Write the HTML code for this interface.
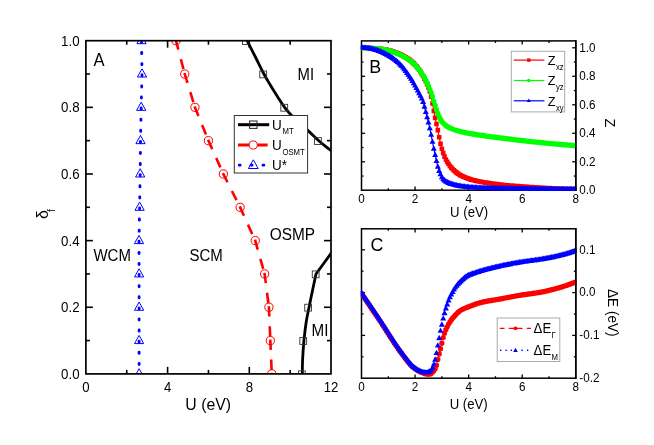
<!DOCTYPE html>
<html><head><meta charset="utf-8"><title>Phase diagram</title>
<style>
html,body{margin:0;padding:0;background:#fff;}
body{width:654px;height:445px;overflow:hidden;font-family:"Liberation Sans",sans-serif;}
svg{display:block;will-change:transform;}
</style></head><body>
<svg width="654" height="445" viewBox="0 0 654 445" font-family='"Liberation Sans", sans-serif'>
<rect width="654" height="445" fill="#fff"/>
<defs><clipPath id="cA"><rect x="85.9" y="40.7" width="245.1" height="333.2"/></clipPath>
<clipPath id="cB"><rect x="360.75" y="40.15" width="215.8" height="150.8"/></clipPath>
<clipPath id="cC"><rect x="360.75" y="228.05" width="215.8" height="150.9"/></clipPath></defs>
<g clip-path="url(#cA)">
<rect x="140.12" y="40" width="2.8" height="4" rx="1.4" fill="#0000ff"/>
<rect x="140.29" y="51.1" width="2.8" height="4" rx="1.4" fill="#0000ff"/>
<rect x="140.46" y="62.2" width="2.8" height="4" rx="1.4" fill="#0000ff"/>
<rect x="140.58" y="73.3" width="2.8" height="4" rx="1.4" fill="#0000ff"/>
<rect x="140.3" y="84.4" width="2.8" height="4" rx="1.4" fill="#0000ff"/>
<rect x="140.03" y="95.5" width="2.8" height="4" rx="1.4" fill="#0000ff"/>
<rect x="139.76" y="106.6" width="2.8" height="4" rx="1.4" fill="#0000ff"/>
<rect x="139.53" y="117.7" width="2.8" height="4" rx="1.4" fill="#0000ff"/>
<rect x="139.3" y="128.8" width="2.8" height="4" rx="1.4" fill="#0000ff"/>
<rect x="139.08" y="139.9" width="2.8" height="4" rx="1.4" fill="#0000ff"/>
<rect x="138.98" y="151" width="2.8" height="4" rx="1.4" fill="#0000ff"/>
<rect x="138.88" y="162.1" width="2.8" height="4" rx="1.4" fill="#0000ff"/>
<rect x="138.77" y="173.2" width="2.8" height="4" rx="1.4" fill="#0000ff"/>
<rect x="138.57" y="184.3" width="2.8" height="4" rx="1.4" fill="#0000ff"/>
<rect x="138.37" y="195.4" width="2.8" height="4" rx="1.4" fill="#0000ff"/>
<rect x="138.18" y="206.5" width="2.8" height="4" rx="1.4" fill="#0000ff"/>
<rect x="137.98" y="217.6" width="2.8" height="4" rx="1.4" fill="#0000ff"/>
<rect x="137.78" y="228.7" width="2.8" height="4" rx="1.4" fill="#0000ff"/>
<rect x="137.61" y="239.8" width="2.8" height="4" rx="1.4" fill="#0000ff"/>
<rect x="137.64" y="250.9" width="2.8" height="4" rx="1.4" fill="#0000ff"/>
<rect x="137.68" y="262" width="2.8" height="4" rx="1.4" fill="#0000ff"/>
<rect x="137.71" y="273.1" width="2.8" height="4" rx="1.4" fill="#0000ff"/>
<rect x="137.71" y="284.2" width="2.8" height="4" rx="1.4" fill="#0000ff"/>
<rect x="137.71" y="295.3" width="2.8" height="4" rx="1.4" fill="#0000ff"/>
<rect x="137.71" y="306.4" width="2.8" height="4" rx="1.4" fill="#0000ff"/>
<rect x="137.71" y="317.5" width="2.8" height="4" rx="1.4" fill="#0000ff"/>
<rect x="137.71" y="328.6" width="2.8" height="4" rx="1.4" fill="#0000ff"/>
<rect x="137.71" y="339.7" width="2.8" height="4" rx="1.4" fill="#0000ff"/>
<rect x="137.71" y="350.8" width="2.8" height="4" rx="1.4" fill="#0000ff"/>
<rect x="137.71" y="361.9" width="2.8" height="4" rx="1.4" fill="#0000ff"/>
<rect x="137.71" y="373" width="2.8" height="4" rx="1.4" fill="#0000ff"/>
<line x1="175.72" y1="39.73" x2="178.34" y2="49.69" stroke="#ff0000" stroke-width="2.6"/>
<line x1="180.82" y1="59.07" x2="183.44" y2="69.03" stroke="#ff0000" stroke-width="2.6"/>
<line x1="184.46" y1="73.06" x2="187.48" y2="82.91" stroke="#ff0000" stroke-width="2.6"/>
<line x1="190.32" y1="92.19" x2="193.34" y2="102.03" stroke="#ff0000" stroke-width="2.6"/>
<line x1="194.59" y1="106.41" x2="198.46" y2="115.96" stroke="#ff0000" stroke-width="2.6"/>
<line x1="202.1" y1="124.95" x2="205.96" y2="134.5" stroke="#ff0000" stroke-width="2.6"/>
<line x1="208.04" y1="139.75" x2="212.25" y2="149.15" stroke="#ff0000" stroke-width="2.6"/>
<line x1="216.21" y1="158" x2="220.42" y2="167.4" stroke="#ff0000" stroke-width="2.6"/>
<line x1="222.91" y1="173.09" x2="227.54" y2="182.29" stroke="#ff0000" stroke-width="2.6"/>
<line x1="231.89" y1="190.96" x2="236.52" y2="200.16" stroke="#ff0000" stroke-width="2.6"/>
<line x1="239.7" y1="206.39" x2="243.95" y2="215.77" stroke="#ff0000" stroke-width="2.6"/>
<line x1="247.96" y1="224.6" x2="252.21" y2="233.98" stroke="#ff0000" stroke-width="2.6"/>
<line x1="254.95" y1="239.66" x2="257.75" y2="249.57" stroke="#ff0000" stroke-width="2.6"/>
<line x1="260.38" y1="258.91" x2="263.18" y2="268.82" stroke="#ff0000" stroke-width="2.6"/>
<line x1="264.49" y1="272.95" x2="265.81" y2="283.16" stroke="#ff0000" stroke-width="2.6"/>
<line x1="267.04" y1="292.78" x2="268.36" y2="303" stroke="#ff0000" stroke-width="2.6"/>
<line x1="268.87" y1="306.26" x2="269.31" y2="316.55" stroke="#ff0000" stroke-width="2.6"/>
<line x1="269.72" y1="326.24" x2="270.16" y2="336.53" stroke="#ff0000" stroke-width="2.6"/>
<line x1="270.29" y1="339.58" x2="270.74" y2="349.87" stroke="#ff0000" stroke-width="2.6"/>
<line x1="271.15" y1="359.56" x2="271.59" y2="369.85" stroke="#ff0000" stroke-width="2.6"/>
<line x1="271.77" y1="372.9" x2="271.77" y2="377.9" stroke="#ff0000" stroke-width="2.6"/>
<path d="M244,35 C244.57,36.07 245.5,37.73 247.4,41.4 C249.3,45.07 252.67,51.61 255.4,57 C258.13,62.39 261.27,69 263.8,73.75 C266.33,78.5 268.38,81.79 270.6,85.5 C272.82,89.21 274.6,92.15 277.1,96 C279.6,99.85 282.78,104.95 285.6,108.6 C288.42,112.25 290.03,114.02 294,117.9 C297.97,121.78 305.18,128.02 309.4,131.9 C313.62,135.78 315.78,138.15 319.3,141.2 C322.82,144.25 327.38,147.73 330.5,150.2 C333.62,152.67 336.75,155.03 338,156" fill="none" stroke="#000" stroke-width="2.8"/>
<path d="M302.3,375 C302.35,372.5 302.33,365.67 302.6,360 C302.87,354.33 303.3,347.33 303.9,341 C304.5,334.67 305.35,327.6 306.2,322 C307.05,316.4 307.97,312.57 309,307.4 C310.03,302.23 311.23,296.57 312.4,291 C313.57,285.43 315.4,276.83 316,274 L340.4,240.6" fill="none" stroke="#000" stroke-width="2.8" stroke-linejoin="round"/>
</g>
<g clip-path="url(#cA)" fill="none" stroke-width="1">
<path d="M141.5,35.5 L146.1,43.7 L136.9,43.7 Z" stroke="#0000ff"/>
<path d="M142.01,68.82 L146.61,77.02 L137.41,77.02 Z" stroke="#0000ff"/>
<path d="M141.19,102.14 L145.79,110.34 L136.59,110.34 Z" stroke="#0000ff"/>
<path d="M140.5,135.46 L145.1,143.66 L135.9,143.66 Z" stroke="#0000ff"/>
<path d="M140.19,168.78 L144.79,176.98 L135.59,176.98 Z" stroke="#0000ff"/>
<path d="M139.6,202.1 L144.2,210.3 L135,210.3 Z" stroke="#0000ff"/>
<path d="M139,235.42 L143.6,243.62 L134.41,243.62 Z" stroke="#0000ff"/>
<path d="M139.11,268.74 L143.71,276.94 L134.51,276.94 Z" stroke="#0000ff"/>
<path d="M139.11,302.06 L143.71,310.26 L134.51,310.26 Z" stroke="#0000ff"/>
<path d="M139.11,335.38 L143.71,343.58 L134.51,343.58 Z" stroke="#0000ff"/>
<path d="M139.11,368.7 L143.71,376.9 L134.51,376.9 Z" stroke="#0000ff"/>
<circle cx="175.97" cy="40.7" r="4.1" stroke="#ff0000"/>
<circle cx="184.76" cy="74.02" r="4.1" stroke="#ff0000"/>
<circle cx="194.97" cy="107.34" r="4.1" stroke="#ff0000"/>
<circle cx="208.45" cy="140.66" r="4.1" stroke="#ff0000"/>
<circle cx="223.36" cy="173.98" r="4.1" stroke="#ff0000"/>
<circle cx="240.11" cy="207.3" r="4.1" stroke="#ff0000"/>
<circle cx="255.22" cy="240.62" r="4.1" stroke="#ff0000"/>
<circle cx="264.62" cy="273.94" r="4.1" stroke="#ff0000"/>
<circle cx="268.91" cy="307.26" r="4.1" stroke="#ff0000"/>
<circle cx="270.34" cy="340.58" r="4.1" stroke="#ff0000"/>
<circle cx="271.77" cy="373.9" r="4.1" stroke="#ff0000"/>
<rect x="242.43" y="37.7" width="6.8" height="6.8" stroke="#333" stroke-width="0.9"/>
<rect x="259.79" y="71.02" width="6.8" height="6.8" stroke="#333" stroke-width="0.9"/>
<rect x="280.83" y="104.34" width="6.8" height="6.8" stroke="#333" stroke-width="0.9"/>
<rect x="314.53" y="137.66" width="6.8" height="6.8" stroke="#333" stroke-width="0.9"/>
<rect x="298.49" y="370.9" width="6.8" height="6.8" stroke="#333" stroke-width="0.9"/>
<rect x="299.82" y="337.58" width="6.8" height="6.8" stroke="#333" stroke-width="0.9"/>
<rect x="304.72" y="304.26" width="6.8" height="6.8" stroke="#333" stroke-width="0.9"/>
<rect x="312.28" y="270.94" width="6.8" height="6.8" stroke="#333" stroke-width="0.9"/>
</g>
<rect x="85.9" y="40.7" width="245.1" height="333.2" fill="none" stroke="#000" stroke-width="1.7"/>
<line x1="126.75" y1="373.9" x2="126.75" y2="369.9" stroke="#000" stroke-width="1.6" />
<line x1="126.75" y1="40.7" x2="126.75" y2="44.7" stroke="#000" stroke-width="1.6" />
<line x1="167.6" y1="373.9" x2="167.6" y2="366.9" stroke="#000" stroke-width="1.6" />
<line x1="167.6" y1="40.7" x2="167.6" y2="47.7" stroke="#000" stroke-width="1.6" />
<line x1="208.45" y1="373.9" x2="208.45" y2="369.9" stroke="#000" stroke-width="1.6" />
<line x1="208.45" y1="40.7" x2="208.45" y2="44.7" stroke="#000" stroke-width="1.6" />
<line x1="249.3" y1="373.9" x2="249.3" y2="366.9" stroke="#000" stroke-width="1.6" />
<line x1="249.3" y1="40.7" x2="249.3" y2="47.7" stroke="#000" stroke-width="1.6" />
<line x1="290.15" y1="373.9" x2="290.15" y2="369.9" stroke="#000" stroke-width="1.6" />
<line x1="290.15" y1="40.7" x2="290.15" y2="44.7" stroke="#000" stroke-width="1.6" />
<line x1="85.9" y1="340.58" x2="89.9" y2="340.58" stroke="#000" stroke-width="1.6" />
<line x1="331" y1="340.58" x2="327" y2="340.58" stroke="#000" stroke-width="1.6" />
<line x1="85.9" y1="307.26" x2="92.9" y2="307.26" stroke="#000" stroke-width="1.6" />
<line x1="331" y1="307.26" x2="324" y2="307.26" stroke="#000" stroke-width="1.6" />
<line x1="85.9" y1="273.94" x2="89.9" y2="273.94" stroke="#000" stroke-width="1.6" />
<line x1="331" y1="273.94" x2="327" y2="273.94" stroke="#000" stroke-width="1.6" />
<line x1="85.9" y1="240.62" x2="92.9" y2="240.62" stroke="#000" stroke-width="1.6" />
<line x1="331" y1="240.62" x2="324" y2="240.62" stroke="#000" stroke-width="1.6" />
<line x1="85.9" y1="207.3" x2="89.9" y2="207.3" stroke="#000" stroke-width="1.6" />
<line x1="331" y1="207.3" x2="327" y2="207.3" stroke="#000" stroke-width="1.6" />
<line x1="85.9" y1="173.98" x2="92.9" y2="173.98" stroke="#000" stroke-width="1.6" />
<line x1="331" y1="173.98" x2="324" y2="173.98" stroke="#000" stroke-width="1.6" />
<line x1="85.9" y1="140.66" x2="89.9" y2="140.66" stroke="#000" stroke-width="1.6" />
<line x1="331" y1="140.66" x2="327" y2="140.66" stroke="#000" stroke-width="1.6" />
<line x1="85.9" y1="107.34" x2="92.9" y2="107.34" stroke="#000" stroke-width="1.6" />
<line x1="331" y1="107.34" x2="324" y2="107.34" stroke="#000" stroke-width="1.6" />
<line x1="85.9" y1="74.02" x2="89.9" y2="74.02" stroke="#000" stroke-width="1.6" />
<line x1="331" y1="74.02" x2="327" y2="74.02" stroke="#000" stroke-width="1.6" />
<text transform="translate(85.9,391.7) scale(0.950,1)" font-size="13.9" text-anchor="middle" fill="#000">0</text>
<text transform="translate(167.6,391.7) scale(0.950,1)" font-size="13.9" text-anchor="middle" fill="#000">4</text>
<text transform="translate(249.3,391.7) scale(0.950,1)" font-size="13.9" text-anchor="middle" fill="#000">8</text>
<text transform="translate(331,391.7) scale(0.950,1)" font-size="13.9" text-anchor="middle" fill="#000">12</text>
<text transform="translate(79.6,378.9) scale(0.950,1)" font-size="14" text-anchor="end" fill="#000">0.0</text>
<text transform="translate(79.6,312.26) scale(0.950,1)" font-size="14" text-anchor="end" fill="#000">0.2</text>
<text transform="translate(79.6,245.62) scale(0.950,1)" font-size="14" text-anchor="end" fill="#000">0.4</text>
<text transform="translate(79.6,178.98) scale(0.950,1)" font-size="14" text-anchor="end" fill="#000">0.6</text>
<text transform="translate(79.6,112.34) scale(0.950,1)" font-size="14" text-anchor="end" fill="#000">0.8</text>
<text transform="translate(79.6,45.7) scale(0.950,1)" font-size="14" text-anchor="end" fill="#000">1.0</text>
<text transform="translate(208.2,409.8) scale(0.930,1)" font-size="17" text-anchor="middle" fill="#000">U (eV)</text>
<g transform="translate(48.4,214.1) rotate(-90)"><text x="0" y="0" font-size="16" text-anchor="middle">δ<tspan font-size="10" dy="6.8" dx="-2.0">f</tspan></text></g>
<text transform="translate(93.5,65.5) scale(0.900,1)" font-size="18.4" text-anchor="start" fill="#000">A</text>
<text transform="translate(297.6,80.4) scale(0.930,1)" font-size="16" text-anchor="start" fill="#000">MI</text>
<text transform="translate(311.5,335.8) scale(0.950,1)" font-size="16" text-anchor="start" fill="#000">MI</text>
<text transform="translate(93.4,260.6) scale(0.950,1)" font-size="15.8" text-anchor="start" fill="#000">WCM</text>
<text transform="translate(189.4,260.6) scale(0.950,1)" font-size="15.8" text-anchor="start" fill="#000">SCM</text>
<text transform="translate(269.8,239.6) scale(0.975,1)" font-size="15.8" text-anchor="start" fill="#000">OSMP</text>
<rect x="234.3" y="115.5" width="73.3" height="57.5" fill="#fff" stroke="#333" stroke-width="1"/>
<line x1="238" y1="124.7" x2="269.2" y2="124.7" stroke="#000" stroke-width="3" />
<rect x="249.6" y="121.0" width="7.4" height="7.4" fill="none" stroke="#222" stroke-width="1"/>
<line x1="238" y1="145" x2="249" y2="145" stroke="#ff0000" stroke-width="3" />
<line x1="257.4" y1="145" x2="267.6" y2="145" stroke="#ff0000" stroke-width="3" />
<circle cx="253.2" cy="145" r="4.1" fill="#fff" stroke="#ff0000" stroke-width="1"/>
<rect x="237.9" y="163.8" width="3.6" height="2.8" rx="1.3" fill="#0000ff"/>
<rect x="249.8" y="163.8" width="3.6" height="2.8" rx="1.3" fill="#0000ff"/>
<rect x="261.6" y="163.8" width="3.6" height="2.8" rx="1.3" fill="#0000ff"/>
<path d="M253.3,159.8 L258.2,168.5 L248.4,168.5 Z" fill="none" stroke="#0000ff" stroke-width="1"/>
<text transform="translate(272.1,129.8) scale(0.950,1)" font-size="14.2" text-anchor="start" fill="#000">U</text>
<text transform="translate(282.44,134.1) scale(0.900,1)" font-size="8.6" text-anchor="start" fill="#000">MT</text>
<text transform="translate(272.1,150.2) scale(0.950,1)" font-size="14.2" text-anchor="start" fill="#000">U</text>
<text transform="translate(282.44,154.5) scale(0.900,1)" font-size="8.6" text-anchor="start" fill="#000">OSMT</text>
<text transform="translate(272.1,170.4) scale(0.950,1)" font-size="14.2" text-anchor="start" fill="#000">U*</text>
<rect x="361.5" y="40.9" width="214.3" height="149.3" fill="none" stroke="#000" stroke-width="1.5"/>
<line x1="388.29" y1="190.2" x2="388.29" y2="188.2" stroke="#000" stroke-width="1.3" />
<line x1="388.29" y1="40.9" x2="388.29" y2="42.9" stroke="#000" stroke-width="1.3" />
<line x1="415.07" y1="190.2" x2="415.07" y2="186.6" stroke="#000" stroke-width="1.3" />
<line x1="415.07" y1="40.9" x2="415.07" y2="44.5" stroke="#000" stroke-width="1.3" />
<line x1="441.86" y1="190.2" x2="441.86" y2="188.2" stroke="#000" stroke-width="1.3" />
<line x1="441.86" y1="40.9" x2="441.86" y2="42.9" stroke="#000" stroke-width="1.3" />
<line x1="468.65" y1="190.2" x2="468.65" y2="186.6" stroke="#000" stroke-width="1.3" />
<line x1="468.65" y1="40.9" x2="468.65" y2="44.5" stroke="#000" stroke-width="1.3" />
<line x1="495.44" y1="190.2" x2="495.44" y2="188.2" stroke="#000" stroke-width="1.3" />
<line x1="495.44" y1="40.9" x2="495.44" y2="42.9" stroke="#000" stroke-width="1.3" />
<line x1="522.22" y1="190.2" x2="522.22" y2="186.6" stroke="#000" stroke-width="1.3" />
<line x1="522.22" y1="40.9" x2="522.22" y2="44.5" stroke="#000" stroke-width="1.3" />
<line x1="549.01" y1="190.2" x2="549.01" y2="188.2" stroke="#000" stroke-width="1.3" />
<line x1="549.01" y1="40.9" x2="549.01" y2="42.9" stroke="#000" stroke-width="1.3" />
<line x1="361.5" y1="176.05" x2="363.5" y2="176.05" stroke="#000" stroke-width="1.3" />
<line x1="361.5" y1="161.8" x2="365.1" y2="161.8" stroke="#000" stroke-width="1.3" />
<line x1="361.5" y1="147.55" x2="363.5" y2="147.55" stroke="#000" stroke-width="1.3" />
<line x1="361.5" y1="133.3" x2="365.1" y2="133.3" stroke="#000" stroke-width="1.3" />
<line x1="361.5" y1="119.05" x2="363.5" y2="119.05" stroke="#000" stroke-width="1.3" />
<line x1="361.5" y1="104.8" x2="365.1" y2="104.8" stroke="#000" stroke-width="1.3" />
<line x1="361.5" y1="90.55" x2="363.5" y2="90.55" stroke="#000" stroke-width="1.3" />
<line x1="361.5" y1="76.3" x2="365.1" y2="76.3" stroke="#000" stroke-width="1.3" />
<line x1="361.5" y1="62.05" x2="363.5" y2="62.05" stroke="#000" stroke-width="1.3" />
<line x1="361.5" y1="47.8" x2="365.1" y2="47.8" stroke="#000" stroke-width="1.3" />
<line x1="575.8" y1="176.05" x2="573.8" y2="176.05" stroke="#000" stroke-width="1.3" />
<line x1="575.8" y1="161.8" x2="572.2" y2="161.8" stroke="#000" stroke-width="1.3" />
<line x1="575.8" y1="147.55" x2="573.8" y2="147.55" stroke="#000" stroke-width="1.3" />
<line x1="575.8" y1="133.3" x2="572.2" y2="133.3" stroke="#000" stroke-width="1.3" />
<line x1="575.8" y1="119.05" x2="573.8" y2="119.05" stroke="#000" stroke-width="1.3" />
<line x1="575.8" y1="104.8" x2="572.2" y2="104.8" stroke="#000" stroke-width="1.3" />
<line x1="575.8" y1="90.55" x2="573.8" y2="90.55" stroke="#000" stroke-width="1.3" />
<line x1="575.8" y1="76.3" x2="572.2" y2="76.3" stroke="#000" stroke-width="1.3" />
<line x1="575.8" y1="62.05" x2="573.8" y2="62.05" stroke="#000" stroke-width="1.3" />
<line x1="575.8" y1="47.8" x2="572.2" y2="47.8" stroke="#000" stroke-width="1.3" />
<g clip-path="url(#cB)">
<polyline points="361.5,47.8 362.84,47.81 364.18,47.83 365.52,47.87 366.86,47.92 368.2,47.98 369.54,48.05 370.88,48.12 372.21,48.2 373.55,48.28 374.89,48.37 376.23,48.47 377.57,48.58 378.91,48.72 380.25,48.87 381.59,49.04 382.93,49.23 384.27,49.44 385.61,49.66 386.95,49.89 388.29,50.18 389.63,50.51 390.97,50.88 392.31,51.29 393.64,51.74 394.98,52.21 396.32,52.72 397.66,53.24 399,53.79 400.34,54.36 401.68,55 403.02,55.69 404.36,56.43 405.7,57.22 407.04,58.07 408.38,58.97 409.72,59.91 411.06,60.94 412.4,62.09 413.74,63.35 415.07,64.74 416.41,66.25 417.75,67.92 419.09,69.74 420.43,71.73 421.77,73.87 423.11,76.18 424.45,78.64 425.79,81.26 427.13,84.14 428.47,87.46 429.81,91.39 431.15,96.79 432.49,103.51 433.83,110.95 435.17,117.87 436.5,124 437.84,130.17 439.18,137.2 440.52,143.74 441.86,148.68 443.2,152.99 444.54,156.6 445.88,159.44 447.22,161.89 448.56,164.05 449.9,165.96 451.24,167.62 452.58,169.07 453.92,170.36 455.26,171.56 456.6,172.67 457.94,173.67 459.27,174.56 460.61,175.36 461.95,176.05 463.29,176.67 464.63,177.24 465.97,177.78 467.31,178.28 468.65,178.74 469.99,179.17 471.33,179.58 472.67,179.95 474.01,180.3 475.35,180.63 476.69,180.93 478.03,181.22 479.37,181.5 480.7,181.76 482.04,182 483.38,182.24 484.72,182.46 486.06,182.67 487.4,182.88 488.74,183.08 490.08,183.27 491.42,183.46 492.76,183.64 494.1,183.82 495.44,184 496.78,184.17 498.12,184.34 499.46,184.51 500.79,184.67 502.13,184.82 503.47,184.96 504.81,185.1 506.15,185.23 507.49,185.35 508.83,185.46 510.17,185.56 511.51,185.66 512.85,185.76 514.19,185.86 515.53,185.96 516.87,186.06 518.21,186.17 519.55,186.26 520.89,186.36 522.22,186.46 523.56,186.56 524.9,186.66 526.24,186.75 527.58,186.85 528.92,186.94 530.26,187.03 531.6,187.12 532.94,187.21 534.28,187.3 535.62,187.39 536.96,187.47 538.3,187.56 539.64,187.64 540.98,187.72 542.32,187.8 543.65,187.87 544.99,187.94 546.33,188.02 547.67,188.09 549.01,188.15 550.35,188.22 551.69,188.28 553.03,188.34 554.37,188.39 555.71,188.45 557.05,188.5 558.39,188.55 559.73,188.59 561.07,188.64 562.41,188.67 563.75,188.71 565.09,188.74 566.42,188.77 567.76,188.8 569.1,188.82 570.44,188.84 571.78,188.85 573.12,188.86 574.46,188.87 575.8,188.88" fill="none" stroke="#ff0000" stroke-width="1.2" />
<path d="M359.2,45.5h4.6v4.6h-4.6zM360.54,45.51h4.6v4.6h-4.6zM361.88,45.53h4.6v4.6h-4.6zM363.22,45.57h4.6v4.6h-4.6zM364.56,45.62h4.6v4.6h-4.6zM365.9,45.68h4.6v4.6h-4.6zM367.24,45.75h4.6v4.6h-4.6zM368.58,45.82h4.6v4.6h-4.6zM369.91,45.9h4.6v4.6h-4.6zM371.25,45.98h4.6v4.6h-4.6zM372.59,46.07h4.6v4.6h-4.6zM373.93,46.17h4.6v4.6h-4.6zM375.27,46.28h4.6v4.6h-4.6zM376.61,46.42h4.6v4.6h-4.6zM377.95,46.57h4.6v4.6h-4.6zM379.29,46.74h4.6v4.6h-4.6zM380.63,46.93h4.6v4.6h-4.6zM381.97,47.14h4.6v4.6h-4.6zM383.31,47.36h4.6v4.6h-4.6zM384.65,47.59h4.6v4.6h-4.6zM385.99,47.88h4.6v4.6h-4.6zM387.33,48.21h4.6v4.6h-4.6zM388.67,48.58h4.6v4.6h-4.6zM390.01,48.99h4.6v4.6h-4.6zM391.34,49.44h4.6v4.6h-4.6zM392.68,49.91h4.6v4.6h-4.6zM394.02,50.42h4.6v4.6h-4.6zM395.36,50.94h4.6v4.6h-4.6zM396.7,51.49h4.6v4.6h-4.6zM398.04,52.06h4.6v4.6h-4.6zM399.38,52.7h4.6v4.6h-4.6zM400.72,53.39h4.6v4.6h-4.6zM402.06,54.13h4.6v4.6h-4.6zM403.4,54.92h4.6v4.6h-4.6zM404.74,55.77h4.6v4.6h-4.6zM406.08,56.67h4.6v4.6h-4.6zM407.42,57.61h4.6v4.6h-4.6zM408.76,58.64h4.6v4.6h-4.6zM410.1,59.79h4.6v4.6h-4.6zM411.44,61.05h4.6v4.6h-4.6zM412.77,62.44h4.6v4.6h-4.6zM414.11,63.95h4.6v4.6h-4.6zM415.45,65.62h4.6v4.6h-4.6zM416.79,67.44h4.6v4.6h-4.6zM418.13,69.43h4.6v4.6h-4.6zM419.47,71.57h4.6v4.6h-4.6zM420.81,73.88h4.6v4.6h-4.6zM422.15,76.34h4.6v4.6h-4.6zM423.49,78.96h4.6v4.6h-4.6zM424.83,81.84h4.6v4.6h-4.6zM426.17,85.16h4.6v4.6h-4.6zM427.51,89.09h4.6v4.6h-4.6zM428.85,94.49h4.6v4.6h-4.6zM430.19,101.21h4.6v4.6h-4.6zM431.53,108.65h4.6v4.6h-4.6zM432.87,115.57h4.6v4.6h-4.6zM434.2,121.7h4.6v4.6h-4.6zM435.54,127.87h4.6v4.6h-4.6zM436.88,134.9h4.6v4.6h-4.6zM438.22,141.44h4.6v4.6h-4.6zM439.56,146.38h4.6v4.6h-4.6zM440.9,150.69h4.6v4.6h-4.6zM442.24,154.3h4.6v4.6h-4.6zM443.58,157.14h4.6v4.6h-4.6zM444.92,159.59h4.6v4.6h-4.6zM446.26,161.75h4.6v4.6h-4.6zM447.6,163.66h4.6v4.6h-4.6zM448.94,165.32h4.6v4.6h-4.6zM450.28,166.77h4.6v4.6h-4.6zM451.62,168.06h4.6v4.6h-4.6zM452.96,169.26h4.6v4.6h-4.6zM454.3,170.37h4.6v4.6h-4.6zM455.63,171.37h4.6v4.6h-4.6zM456.97,172.26h4.6v4.6h-4.6zM458.31,173.06h4.6v4.6h-4.6zM459.65,173.75h4.6v4.6h-4.6zM460.99,174.37h4.6v4.6h-4.6zM462.33,174.94h4.6v4.6h-4.6zM463.67,175.48h4.6v4.6h-4.6zM465.01,175.98h4.6v4.6h-4.6zM466.35,176.44h4.6v4.6h-4.6zM467.69,176.87h4.6v4.6h-4.6zM469.03,177.28h4.6v4.6h-4.6zM470.37,177.65h4.6v4.6h-4.6zM471.71,178h4.6v4.6h-4.6zM473.05,178.33h4.6v4.6h-4.6zM474.39,178.63h4.6v4.6h-4.6zM475.73,178.92h4.6v4.6h-4.6zM477.06,179.2h4.6v4.6h-4.6zM478.4,179.46h4.6v4.6h-4.6zM479.74,179.7h4.6v4.6h-4.6zM481.08,179.94h4.6v4.6h-4.6zM482.42,180.16h4.6v4.6h-4.6zM483.76,180.37h4.6v4.6h-4.6zM485.1,180.58h4.6v4.6h-4.6zM486.44,180.78h4.6v4.6h-4.6zM487.78,180.97h4.6v4.6h-4.6zM489.12,181.16h4.6v4.6h-4.6zM490.46,181.34h4.6v4.6h-4.6zM491.8,181.52h4.6v4.6h-4.6zM493.14,181.7h4.6v4.6h-4.6zM494.48,181.87h4.6v4.6h-4.6zM495.82,182.04h4.6v4.6h-4.6zM497.16,182.21h4.6v4.6h-4.6zM498.49,182.37h4.6v4.6h-4.6zM499.83,182.52h4.6v4.6h-4.6zM501.17,182.66h4.6v4.6h-4.6zM502.51,182.8h4.6v4.6h-4.6zM503.85,182.93h4.6v4.6h-4.6zM505.19,183.05h4.6v4.6h-4.6zM506.53,183.16h4.6v4.6h-4.6zM507.87,183.26h4.6v4.6h-4.6zM509.21,183.36h4.6v4.6h-4.6zM510.55,183.46h4.6v4.6h-4.6zM511.89,183.56h4.6v4.6h-4.6zM513.23,183.66h4.6v4.6h-4.6zM514.57,183.76h4.6v4.6h-4.6zM515.91,183.87h4.6v4.6h-4.6zM517.25,183.96h4.6v4.6h-4.6zM518.59,184.06h4.6v4.6h-4.6zM519.92,184.16h4.6v4.6h-4.6zM521.26,184.26h4.6v4.6h-4.6zM522.6,184.36h4.6v4.6h-4.6zM523.94,184.45h4.6v4.6h-4.6zM525.28,184.55h4.6v4.6h-4.6zM526.62,184.64h4.6v4.6h-4.6zM527.96,184.73h4.6v4.6h-4.6zM529.3,184.82h4.6v4.6h-4.6zM530.64,184.91h4.6v4.6h-4.6zM531.98,185h4.6v4.6h-4.6zM533.32,185.09h4.6v4.6h-4.6zM534.66,185.17h4.6v4.6h-4.6zM536,185.26h4.6v4.6h-4.6zM537.34,185.34h4.6v4.6h-4.6zM538.68,185.42h4.6v4.6h-4.6zM540.02,185.5h4.6v4.6h-4.6zM541.36,185.57h4.6v4.6h-4.6zM542.69,185.64h4.6v4.6h-4.6zM544.03,185.72h4.6v4.6h-4.6zM545.37,185.79h4.6v4.6h-4.6zM546.71,185.85h4.6v4.6h-4.6zM548.05,185.92h4.6v4.6h-4.6zM549.39,185.98h4.6v4.6h-4.6zM550.73,186.04h4.6v4.6h-4.6zM552.07,186.09h4.6v4.6h-4.6zM553.41,186.15h4.6v4.6h-4.6zM554.75,186.2h4.6v4.6h-4.6zM556.09,186.25h4.6v4.6h-4.6zM557.43,186.29h4.6v4.6h-4.6zM558.77,186.34h4.6v4.6h-4.6zM560.11,186.37h4.6v4.6h-4.6zM561.45,186.41h4.6v4.6h-4.6zM562.79,186.44h4.6v4.6h-4.6zM564.12,186.47h4.6v4.6h-4.6zM565.46,186.5h4.6v4.6h-4.6zM566.8,186.52h4.6v4.6h-4.6zM568.14,186.54h4.6v4.6h-4.6zM569.48,186.55h4.6v4.6h-4.6zM570.82,186.56h4.6v4.6h-4.6zM572.16,186.57h4.6v4.6h-4.6zM573.5,186.57h4.6v4.6h-4.6z" fill="#ff0000"/>
<polyline points="361.5,47.8 362.84,47.82 364.18,47.86 365.52,47.91 366.86,47.97 368.2,48.04 369.54,48.12 370.88,48.21 372.21,48.31 373.55,48.41 374.89,48.51 376.23,48.63 377.57,48.76 378.91,48.91 380.25,49.08 381.59,49.27 382.93,49.47 384.27,49.69 385.61,49.93 386.95,50.19 388.29,50.49 389.63,50.83 390.97,51.22 392.31,51.65 393.64,52.11 394.98,52.6 396.32,53.12 397.66,53.66 399,54.21 400.34,54.8 401.68,55.44 403.02,56.14 404.36,56.88 405.7,57.67 407.04,58.51 408.38,59.4 409.72,60.34 411.06,61.36 412.4,62.49 413.74,63.73 415.07,65.07 416.41,66.51 417.75,68.05 419.09,69.71 420.43,71.5 421.77,73.42 423.11,75.48 424.45,77.69 425.79,80.16 427.13,83.01 428.47,86.11 429.81,89.33 431.15,92.65 432.49,96.59 433.83,101.15 435.17,105.49 436.5,109.7 437.84,113.5 439.18,116.51 440.52,119.17 441.86,121.4 443.2,123.04 444.54,124.32 445.88,125.44 447.22,126.39 448.56,127.21 449.9,127.9 451.24,128.51 452.58,129.06 453.92,129.56 455.26,130.03 456.6,130.45 457.94,130.84 459.27,131.21 460.61,131.55 461.95,131.88 463.29,132.19 464.63,132.48 465.97,132.77 467.31,133.04 468.65,133.3 469.99,133.54 471.33,133.78 472.67,134.01 474.01,134.24 475.35,134.46 476.69,134.67 478.03,134.88 479.37,135.09 480.7,135.3 482.04,135.5 483.38,135.7 484.72,135.9 486.06,136.09 487.4,136.28 488.74,136.46 490.08,136.64 491.42,136.82 492.76,137 494.1,137.17 495.44,137.34 496.78,137.51 498.12,137.68 499.46,137.84 500.79,138.01 502.13,138.18 503.47,138.34 504.81,138.5 506.15,138.67 507.49,138.83 508.83,139 510.17,139.17 511.51,139.33 512.85,139.5 514.19,139.66 515.53,139.82 516.87,139.99 518.21,140.15 519.55,140.31 520.89,140.47 522.22,140.62 523.56,140.78 524.9,140.93 526.24,141.08 527.58,141.23 528.92,141.38 530.26,141.52 531.6,141.67 532.94,141.81 534.28,141.95 535.62,142.09 536.96,142.22 538.3,142.36 539.64,142.5 540.98,142.63 542.32,142.76 543.65,142.9 544.99,143.03 546.33,143.16 547.67,143.29 549.01,143.41 550.35,143.54 551.69,143.66 553.03,143.79 554.37,143.91 555.71,144.03 557.05,144.15 558.39,144.27 559.73,144.39 561.07,144.51 562.41,144.62 563.75,144.74 565.09,144.85 566.42,144.96 567.76,145.07 569.1,145.18 570.44,145.28 571.78,145.39 573.12,145.49 574.46,145.6 575.8,145.7" fill="none" stroke="#00ff00" stroke-width="1.2" />
<path d="M358.85,47.8a2.65,2.65 0 1,0 5.3,0a2.65,2.65 0 1,0 -5.3,0zM360.19,47.82a2.65,2.65 0 1,0 5.3,0a2.65,2.65 0 1,0 -5.3,0zM361.53,47.86a2.65,2.65 0 1,0 5.3,0a2.65,2.65 0 1,0 -5.3,0zM362.87,47.91a2.65,2.65 0 1,0 5.3,0a2.65,2.65 0 1,0 -5.3,0zM364.21,47.97a2.65,2.65 0 1,0 5.3,0a2.65,2.65 0 1,0 -5.3,0zM365.55,48.04a2.65,2.65 0 1,0 5.3,0a2.65,2.65 0 1,0 -5.3,0zM366.89,48.12a2.65,2.65 0 1,0 5.3,0a2.65,2.65 0 1,0 -5.3,0zM368.23,48.21a2.65,2.65 0 1,0 5.3,0a2.65,2.65 0 1,0 -5.3,0zM369.56,48.31a2.65,2.65 0 1,0 5.3,0a2.65,2.65 0 1,0 -5.3,0zM370.9,48.41a2.65,2.65 0 1,0 5.3,0a2.65,2.65 0 1,0 -5.3,0zM372.24,48.51a2.65,2.65 0 1,0 5.3,0a2.65,2.65 0 1,0 -5.3,0zM373.58,48.63a2.65,2.65 0 1,0 5.3,0a2.65,2.65 0 1,0 -5.3,0zM374.92,48.76a2.65,2.65 0 1,0 5.3,0a2.65,2.65 0 1,0 -5.3,0zM376.26,48.91a2.65,2.65 0 1,0 5.3,0a2.65,2.65 0 1,0 -5.3,0zM377.6,49.08a2.65,2.65 0 1,0 5.3,0a2.65,2.65 0 1,0 -5.3,0zM378.94,49.27a2.65,2.65 0 1,0 5.3,0a2.65,2.65 0 1,0 -5.3,0zM380.28,49.47a2.65,2.65 0 1,0 5.3,0a2.65,2.65 0 1,0 -5.3,0zM381.62,49.69a2.65,2.65 0 1,0 5.3,0a2.65,2.65 0 1,0 -5.3,0zM382.96,49.93a2.65,2.65 0 1,0 5.3,0a2.65,2.65 0 1,0 -5.3,0zM384.3,50.19a2.65,2.65 0 1,0 5.3,0a2.65,2.65 0 1,0 -5.3,0zM385.64,50.49a2.65,2.65 0 1,0 5.3,0a2.65,2.65 0 1,0 -5.3,0zM386.98,50.83a2.65,2.65 0 1,0 5.3,0a2.65,2.65 0 1,0 -5.3,0zM388.32,51.22a2.65,2.65 0 1,0 5.3,0a2.65,2.65 0 1,0 -5.3,0zM389.66,51.65a2.65,2.65 0 1,0 5.3,0a2.65,2.65 0 1,0 -5.3,0zM391,52.11a2.65,2.65 0 1,0 5.3,0a2.65,2.65 0 1,0 -5.3,0zM392.33,52.6a2.65,2.65 0 1,0 5.3,0a2.65,2.65 0 1,0 -5.3,0zM393.67,53.12a2.65,2.65 0 1,0 5.3,0a2.65,2.65 0 1,0 -5.3,0zM395.01,53.66a2.65,2.65 0 1,0 5.3,0a2.65,2.65 0 1,0 -5.3,0zM396.35,54.21a2.65,2.65 0 1,0 5.3,0a2.65,2.65 0 1,0 -5.3,0zM397.69,54.8a2.65,2.65 0 1,0 5.3,0a2.65,2.65 0 1,0 -5.3,0zM399.03,55.44a2.65,2.65 0 1,0 5.3,0a2.65,2.65 0 1,0 -5.3,0zM400.37,56.14a2.65,2.65 0 1,0 5.3,0a2.65,2.65 0 1,0 -5.3,0zM401.71,56.88a2.65,2.65 0 1,0 5.3,0a2.65,2.65 0 1,0 -5.3,0zM403.05,57.67a2.65,2.65 0 1,0 5.3,0a2.65,2.65 0 1,0 -5.3,0zM404.39,58.51a2.65,2.65 0 1,0 5.3,0a2.65,2.65 0 1,0 -5.3,0zM405.73,59.4a2.65,2.65 0 1,0 5.3,0a2.65,2.65 0 1,0 -5.3,0zM407.07,60.34a2.65,2.65 0 1,0 5.3,0a2.65,2.65 0 1,0 -5.3,0zM408.41,61.36a2.65,2.65 0 1,0 5.3,0a2.65,2.65 0 1,0 -5.3,0zM409.75,62.49a2.65,2.65 0 1,0 5.3,0a2.65,2.65 0 1,0 -5.3,0zM411.09,63.73a2.65,2.65 0 1,0 5.3,0a2.65,2.65 0 1,0 -5.3,0zM412.43,65.07a2.65,2.65 0 1,0 5.3,0a2.65,2.65 0 1,0 -5.3,0zM413.76,66.51a2.65,2.65 0 1,0 5.3,0a2.65,2.65 0 1,0 -5.3,0zM415.1,68.05a2.65,2.65 0 1,0 5.3,0a2.65,2.65 0 1,0 -5.3,0zM416.44,69.71a2.65,2.65 0 1,0 5.3,0a2.65,2.65 0 1,0 -5.3,0zM417.78,71.5a2.65,2.65 0 1,0 5.3,0a2.65,2.65 0 1,0 -5.3,0zM419.12,73.42a2.65,2.65 0 1,0 5.3,0a2.65,2.65 0 1,0 -5.3,0zM420.46,75.48a2.65,2.65 0 1,0 5.3,0a2.65,2.65 0 1,0 -5.3,0zM421.8,77.69a2.65,2.65 0 1,0 5.3,0a2.65,2.65 0 1,0 -5.3,0zM423.14,80.16a2.65,2.65 0 1,0 5.3,0a2.65,2.65 0 1,0 -5.3,0zM424.48,83.01a2.65,2.65 0 1,0 5.3,0a2.65,2.65 0 1,0 -5.3,0zM425.82,86.11a2.65,2.65 0 1,0 5.3,0a2.65,2.65 0 1,0 -5.3,0zM427.16,89.33a2.65,2.65 0 1,0 5.3,0a2.65,2.65 0 1,0 -5.3,0zM428.5,92.65a2.65,2.65 0 1,0 5.3,0a2.65,2.65 0 1,0 -5.3,0zM429.84,96.59a2.65,2.65 0 1,0 5.3,0a2.65,2.65 0 1,0 -5.3,0zM431.18,101.15a2.65,2.65 0 1,0 5.3,0a2.65,2.65 0 1,0 -5.3,0zM432.52,105.49a2.65,2.65 0 1,0 5.3,0a2.65,2.65 0 1,0 -5.3,0zM433.86,109.7a2.65,2.65 0 1,0 5.3,0a2.65,2.65 0 1,0 -5.3,0zM435.19,113.5a2.65,2.65 0 1,0 5.3,0a2.65,2.65 0 1,0 -5.3,0zM436.53,116.51a2.65,2.65 0 1,0 5.3,0a2.65,2.65 0 1,0 -5.3,0zM437.87,119.17a2.65,2.65 0 1,0 5.3,0a2.65,2.65 0 1,0 -5.3,0zM439.21,121.4a2.65,2.65 0 1,0 5.3,0a2.65,2.65 0 1,0 -5.3,0zM440.55,123.04a2.65,2.65 0 1,0 5.3,0a2.65,2.65 0 1,0 -5.3,0zM441.89,124.32a2.65,2.65 0 1,0 5.3,0a2.65,2.65 0 1,0 -5.3,0zM443.23,125.44a2.65,2.65 0 1,0 5.3,0a2.65,2.65 0 1,0 -5.3,0zM444.57,126.39a2.65,2.65 0 1,0 5.3,0a2.65,2.65 0 1,0 -5.3,0zM445.91,127.21a2.65,2.65 0 1,0 5.3,0a2.65,2.65 0 1,0 -5.3,0zM447.25,127.9a2.65,2.65 0 1,0 5.3,0a2.65,2.65 0 1,0 -5.3,0zM448.59,128.51a2.65,2.65 0 1,0 5.3,0a2.65,2.65 0 1,0 -5.3,0zM449.93,129.06a2.65,2.65 0 1,0 5.3,0a2.65,2.65 0 1,0 -5.3,0zM451.27,129.56a2.65,2.65 0 1,0 5.3,0a2.65,2.65 0 1,0 -5.3,0zM452.61,130.03a2.65,2.65 0 1,0 5.3,0a2.65,2.65 0 1,0 -5.3,0zM453.95,130.45a2.65,2.65 0 1,0 5.3,0a2.65,2.65 0 1,0 -5.3,0zM455.29,130.84a2.65,2.65 0 1,0 5.3,0a2.65,2.65 0 1,0 -5.3,0zM456.62,131.21a2.65,2.65 0 1,0 5.3,0a2.65,2.65 0 1,0 -5.3,0zM457.96,131.55a2.65,2.65 0 1,0 5.3,0a2.65,2.65 0 1,0 -5.3,0zM459.3,131.88a2.65,2.65 0 1,0 5.3,0a2.65,2.65 0 1,0 -5.3,0zM460.64,132.19a2.65,2.65 0 1,0 5.3,0a2.65,2.65 0 1,0 -5.3,0zM461.98,132.48a2.65,2.65 0 1,0 5.3,0a2.65,2.65 0 1,0 -5.3,0zM463.32,132.77a2.65,2.65 0 1,0 5.3,0a2.65,2.65 0 1,0 -5.3,0zM464.66,133.04a2.65,2.65 0 1,0 5.3,0a2.65,2.65 0 1,0 -5.3,0zM466,133.3a2.65,2.65 0 1,0 5.3,0a2.65,2.65 0 1,0 -5.3,0zM467.34,133.54a2.65,2.65 0 1,0 5.3,0a2.65,2.65 0 1,0 -5.3,0zM468.68,133.78a2.65,2.65 0 1,0 5.3,0a2.65,2.65 0 1,0 -5.3,0zM470.02,134.01a2.65,2.65 0 1,0 5.3,0a2.65,2.65 0 1,0 -5.3,0zM471.36,134.24a2.65,2.65 0 1,0 5.3,0a2.65,2.65 0 1,0 -5.3,0zM472.7,134.46a2.65,2.65 0 1,0 5.3,0a2.65,2.65 0 1,0 -5.3,0zM474.04,134.67a2.65,2.65 0 1,0 5.3,0a2.65,2.65 0 1,0 -5.3,0zM475.38,134.88a2.65,2.65 0 1,0 5.3,0a2.65,2.65 0 1,0 -5.3,0zM476.72,135.09a2.65,2.65 0 1,0 5.3,0a2.65,2.65 0 1,0 -5.3,0zM478.05,135.3a2.65,2.65 0 1,0 5.3,0a2.65,2.65 0 1,0 -5.3,0zM479.39,135.5a2.65,2.65 0 1,0 5.3,0a2.65,2.65 0 1,0 -5.3,0zM480.73,135.7a2.65,2.65 0 1,0 5.3,0a2.65,2.65 0 1,0 -5.3,0zM482.07,135.9a2.65,2.65 0 1,0 5.3,0a2.65,2.65 0 1,0 -5.3,0zM483.41,136.09a2.65,2.65 0 1,0 5.3,0a2.65,2.65 0 1,0 -5.3,0zM484.75,136.28a2.65,2.65 0 1,0 5.3,0a2.65,2.65 0 1,0 -5.3,0zM486.09,136.46a2.65,2.65 0 1,0 5.3,0a2.65,2.65 0 1,0 -5.3,0zM487.43,136.64a2.65,2.65 0 1,0 5.3,0a2.65,2.65 0 1,0 -5.3,0zM488.77,136.82a2.65,2.65 0 1,0 5.3,0a2.65,2.65 0 1,0 -5.3,0zM490.11,137a2.65,2.65 0 1,0 5.3,0a2.65,2.65 0 1,0 -5.3,0zM491.45,137.17a2.65,2.65 0 1,0 5.3,0a2.65,2.65 0 1,0 -5.3,0zM492.79,137.34a2.65,2.65 0 1,0 5.3,0a2.65,2.65 0 1,0 -5.3,0zM494.13,137.51a2.65,2.65 0 1,0 5.3,0a2.65,2.65 0 1,0 -5.3,0zM495.47,137.68a2.65,2.65 0 1,0 5.3,0a2.65,2.65 0 1,0 -5.3,0zM496.81,137.84a2.65,2.65 0 1,0 5.3,0a2.65,2.65 0 1,0 -5.3,0zM498.14,138.01a2.65,2.65 0 1,0 5.3,0a2.65,2.65 0 1,0 -5.3,0zM499.48,138.18a2.65,2.65 0 1,0 5.3,0a2.65,2.65 0 1,0 -5.3,0zM500.82,138.34a2.65,2.65 0 1,0 5.3,0a2.65,2.65 0 1,0 -5.3,0zM502.16,138.5a2.65,2.65 0 1,0 5.3,0a2.65,2.65 0 1,0 -5.3,0zM503.5,138.67a2.65,2.65 0 1,0 5.3,0a2.65,2.65 0 1,0 -5.3,0zM504.84,138.83a2.65,2.65 0 1,0 5.3,0a2.65,2.65 0 1,0 -5.3,0zM506.18,139a2.65,2.65 0 1,0 5.3,0a2.65,2.65 0 1,0 -5.3,0zM507.52,139.17a2.65,2.65 0 1,0 5.3,0a2.65,2.65 0 1,0 -5.3,0zM508.86,139.33a2.65,2.65 0 1,0 5.3,0a2.65,2.65 0 1,0 -5.3,0zM510.2,139.5a2.65,2.65 0 1,0 5.3,0a2.65,2.65 0 1,0 -5.3,0zM511.54,139.66a2.65,2.65 0 1,0 5.3,0a2.65,2.65 0 1,0 -5.3,0zM512.88,139.82a2.65,2.65 0 1,0 5.3,0a2.65,2.65 0 1,0 -5.3,0zM514.22,139.99a2.65,2.65 0 1,0 5.3,0a2.65,2.65 0 1,0 -5.3,0zM515.56,140.15a2.65,2.65 0 1,0 5.3,0a2.65,2.65 0 1,0 -5.3,0zM516.9,140.31a2.65,2.65 0 1,0 5.3,0a2.65,2.65 0 1,0 -5.3,0zM518.24,140.47a2.65,2.65 0 1,0 5.3,0a2.65,2.65 0 1,0 -5.3,0zM519.57,140.62a2.65,2.65 0 1,0 5.3,0a2.65,2.65 0 1,0 -5.3,0zM520.91,140.78a2.65,2.65 0 1,0 5.3,0a2.65,2.65 0 1,0 -5.3,0zM522.25,140.93a2.65,2.65 0 1,0 5.3,0a2.65,2.65 0 1,0 -5.3,0zM523.59,141.08a2.65,2.65 0 1,0 5.3,0a2.65,2.65 0 1,0 -5.3,0zM524.93,141.23a2.65,2.65 0 1,0 5.3,0a2.65,2.65 0 1,0 -5.3,0zM526.27,141.38a2.65,2.65 0 1,0 5.3,0a2.65,2.65 0 1,0 -5.3,0zM527.61,141.52a2.65,2.65 0 1,0 5.3,0a2.65,2.65 0 1,0 -5.3,0zM528.95,141.67a2.65,2.65 0 1,0 5.3,0a2.65,2.65 0 1,0 -5.3,0zM530.29,141.81a2.65,2.65 0 1,0 5.3,0a2.65,2.65 0 1,0 -5.3,0zM531.63,141.95a2.65,2.65 0 1,0 5.3,0a2.65,2.65 0 1,0 -5.3,0zM532.97,142.09a2.65,2.65 0 1,0 5.3,0a2.65,2.65 0 1,0 -5.3,0zM534.31,142.22a2.65,2.65 0 1,0 5.3,0a2.65,2.65 0 1,0 -5.3,0zM535.65,142.36a2.65,2.65 0 1,0 5.3,0a2.65,2.65 0 1,0 -5.3,0zM536.99,142.5a2.65,2.65 0 1,0 5.3,0a2.65,2.65 0 1,0 -5.3,0zM538.33,142.63a2.65,2.65 0 1,0 5.3,0a2.65,2.65 0 1,0 -5.3,0zM539.67,142.76a2.65,2.65 0 1,0 5.3,0a2.65,2.65 0 1,0 -5.3,0zM541,142.9a2.65,2.65 0 1,0 5.3,0a2.65,2.65 0 1,0 -5.3,0zM542.34,143.03a2.65,2.65 0 1,0 5.3,0a2.65,2.65 0 1,0 -5.3,0zM543.68,143.16a2.65,2.65 0 1,0 5.3,0a2.65,2.65 0 1,0 -5.3,0zM545.02,143.29a2.65,2.65 0 1,0 5.3,0a2.65,2.65 0 1,0 -5.3,0zM546.36,143.41a2.65,2.65 0 1,0 5.3,0a2.65,2.65 0 1,0 -5.3,0zM547.7,143.54a2.65,2.65 0 1,0 5.3,0a2.65,2.65 0 1,0 -5.3,0zM549.04,143.66a2.65,2.65 0 1,0 5.3,0a2.65,2.65 0 1,0 -5.3,0zM550.38,143.79a2.65,2.65 0 1,0 5.3,0a2.65,2.65 0 1,0 -5.3,0zM551.72,143.91a2.65,2.65 0 1,0 5.3,0a2.65,2.65 0 1,0 -5.3,0zM553.06,144.03a2.65,2.65 0 1,0 5.3,0a2.65,2.65 0 1,0 -5.3,0zM554.4,144.15a2.65,2.65 0 1,0 5.3,0a2.65,2.65 0 1,0 -5.3,0zM555.74,144.27a2.65,2.65 0 1,0 5.3,0a2.65,2.65 0 1,0 -5.3,0zM557.08,144.39a2.65,2.65 0 1,0 5.3,0a2.65,2.65 0 1,0 -5.3,0zM558.42,144.51a2.65,2.65 0 1,0 5.3,0a2.65,2.65 0 1,0 -5.3,0zM559.76,144.62a2.65,2.65 0 1,0 5.3,0a2.65,2.65 0 1,0 -5.3,0zM561.1,144.74a2.65,2.65 0 1,0 5.3,0a2.65,2.65 0 1,0 -5.3,0zM562.44,144.85a2.65,2.65 0 1,0 5.3,0a2.65,2.65 0 1,0 -5.3,0zM563.77,144.96a2.65,2.65 0 1,0 5.3,0a2.65,2.65 0 1,0 -5.3,0zM565.11,145.07a2.65,2.65 0 1,0 5.3,0a2.65,2.65 0 1,0 -5.3,0zM566.45,145.18a2.65,2.65 0 1,0 5.3,0a2.65,2.65 0 1,0 -5.3,0zM567.79,145.28a2.65,2.65 0 1,0 5.3,0a2.65,2.65 0 1,0 -5.3,0zM569.13,145.39a2.65,2.65 0 1,0 5.3,0a2.65,2.65 0 1,0 -5.3,0zM570.47,145.49a2.65,2.65 0 1,0 5.3,0a2.65,2.65 0 1,0 -5.3,0zM571.81,145.6a2.65,2.65 0 1,0 5.3,0a2.65,2.65 0 1,0 -5.3,0zM573.15,145.7a2.65,2.65 0 1,0 5.3,0a2.65,2.65 0 1,0 -5.3,0z" fill="#00ff00"/>
<polyline points="361.5,47.8 362.84,47.8 364.18,47.84 365.52,47.95 366.86,48.11 368.2,48.32 369.54,48.56 370.88,48.82 372.21,49.1 373.55,49.38 374.89,49.7 376.23,50.09 377.57,50.53 378.91,51.03 380.25,51.58 381.59,52.16 382.93,52.78 384.27,53.42 385.61,54.08 386.95,54.76 388.29,55.46 389.63,56.24 390.97,57.07 392.31,57.97 393.64,58.91 394.98,59.91 396.32,60.98 397.66,62.14 399,63.39 400.34,64.72 401.68,66.13 403.02,67.66 404.36,69.33 405.7,71.1 407.04,72.94 408.38,74.84 409.72,76.84 411.06,78.91 412.4,81.06 413.74,83.3 415.07,85.62 416.41,88.08 417.75,90.64 419.09,93.24 420.43,95.78 421.77,98.58 423.11,101.95 424.45,106.81 425.79,112.01 427.13,117.19 428.47,122.57 429.81,128.35 431.15,134.89 432.49,141.92 433.83,148.73 435.17,154.97 436.5,161.14 437.84,166.69 439.18,170.95 440.52,174.41 441.86,177.26 443.2,179.19 444.54,180.43 445.88,181.44 447.22,182.27 448.56,182.95 449.9,183.5 451.24,183.98 452.58,184.42 453.92,184.81 455.26,185.17 456.6,185.5 457.94,185.79 459.27,186.04 460.61,186.26 461.95,186.45 463.29,186.62 464.63,186.78 465.97,186.93 467.31,187.07 468.65,187.2 469.99,187.33 471.33,187.44 472.67,187.55 474.01,187.65 475.35,187.74 476.69,187.82 478.03,187.9 479.37,187.96 480.7,188.02 482.04,188.07 483.38,188.12 484.72,188.17 486.06,188.22 487.4,188.26 488.74,188.3 490.08,188.34 491.42,188.38 492.76,188.41 494.1,188.45 495.44,188.48 496.78,188.51 498.12,188.54 499.46,188.57 500.79,188.59 502.13,188.62 503.47,188.64 504.81,188.67 506.15,188.69 507.49,188.71 508.83,188.73 510.17,188.75 511.51,188.77 512.85,188.8 514.19,188.82 515.53,188.84 516.87,188.86 518.21,188.88 519.55,188.9 520.89,188.92 522.22,188.94 523.56,188.96 524.9,188.98 526.24,189 527.58,189.02 528.92,189.04 530.26,189.06 531.6,189.08 532.94,189.1 534.28,189.12 535.62,189.13 536.96,189.15 538.3,189.17 539.64,189.19 540.98,189.2 542.32,189.22 543.65,189.23 544.99,189.25 546.33,189.27 547.67,189.28 549.01,189.29 550.35,189.31 551.69,189.32 553.03,189.33 554.37,189.34 555.71,189.36 557.05,189.37 558.39,189.38 559.73,189.39 561.07,189.39 562.41,189.4 563.75,189.41 565.09,189.42 566.42,189.42 567.76,189.43 569.1,189.43 570.44,189.44 571.78,189.44 573.12,189.44 574.46,189.44 575.8,189.45" fill="none" stroke="#0000ff" stroke-width="1.2" />
<path d="M361.5,44.35l3,5.4h-6zM362.84,44.35l3,5.4h-6zM364.18,44.39l3,5.4h-6zM365.52,44.5l3,5.4h-6zM366.86,44.66l3,5.4h-6zM368.2,44.87l3,5.4h-6zM369.54,45.11l3,5.4h-6zM370.88,45.37l3,5.4h-6zM372.21,45.65l3,5.4h-6zM373.55,45.93l3,5.4h-6zM374.89,46.25l3,5.4h-6zM376.23,46.64l3,5.4h-6zM377.57,47.08l3,5.4h-6zM378.91,47.58l3,5.4h-6zM380.25,48.13l3,5.4h-6zM381.59,48.71l3,5.4h-6zM382.93,49.33l3,5.4h-6zM384.27,49.97l3,5.4h-6zM385.61,50.63l3,5.4h-6zM386.95,51.31l3,5.4h-6zM388.29,52.01l3,5.4h-6zM389.63,52.79l3,5.4h-6zM390.97,53.62l3,5.4h-6zM392.31,54.52l3,5.4h-6zM393.64,55.46l3,5.4h-6zM394.98,56.46l3,5.4h-6zM396.32,57.53l3,5.4h-6zM397.66,58.69l3,5.4h-6zM399,59.94l3,5.4h-6zM400.34,61.27l3,5.4h-6zM401.68,62.68l3,5.4h-6zM403.02,64.21l3,5.4h-6zM404.36,65.88l3,5.4h-6zM405.7,67.65l3,5.4h-6zM407.04,69.49l3,5.4h-6zM408.38,71.39l3,5.4h-6zM409.72,73.39l3,5.4h-6zM411.06,75.46l3,5.4h-6zM412.4,77.61l3,5.4h-6zM413.74,79.85l3,5.4h-6zM415.07,82.17l3,5.4h-6zM416.41,84.63l3,5.4h-6zM417.75,87.19l3,5.4h-6zM419.09,89.79l3,5.4h-6zM420.43,92.33l3,5.4h-6zM421.77,95.13l3,5.4h-6zM423.11,98.5l3,5.4h-6zM424.45,103.36l3,5.4h-6zM425.79,108.56l3,5.4h-6zM427.13,113.74l3,5.4h-6zM428.47,119.12l3,5.4h-6zM429.81,124.9l3,5.4h-6zM431.15,131.44l3,5.4h-6zM432.49,138.47l3,5.4h-6zM433.83,145.28l3,5.4h-6zM435.17,151.52l3,5.4h-6zM436.5,157.69l3,5.4h-6zM437.84,163.24l3,5.4h-6zM439.18,167.5l3,5.4h-6zM440.52,170.96l3,5.4h-6zM441.86,173.81l3,5.4h-6zM443.2,175.74l3,5.4h-6zM444.54,176.98l3,5.4h-6zM445.88,177.99l3,5.4h-6zM447.22,178.82l3,5.4h-6zM448.56,179.5l3,5.4h-6zM449.9,180.05l3,5.4h-6zM451.24,180.53l3,5.4h-6zM452.58,180.97l3,5.4h-6zM453.92,181.36l3,5.4h-6zM455.26,181.72l3,5.4h-6zM456.6,182.05l3,5.4h-6zM457.94,182.34l3,5.4h-6zM459.27,182.59l3,5.4h-6zM460.61,182.81l3,5.4h-6zM461.95,183l3,5.4h-6zM463.29,183.17l3,5.4h-6zM464.63,183.33l3,5.4h-6zM465.97,183.48l3,5.4h-6zM467.31,183.62l3,5.4h-6zM468.65,183.75l3,5.4h-6zM469.99,183.88l3,5.4h-6zM471.33,183.99l3,5.4h-6zM472.67,184.1l3,5.4h-6zM474.01,184.2l3,5.4h-6zM475.35,184.29l3,5.4h-6zM476.69,184.37l3,5.4h-6zM478.03,184.45l3,5.4h-6zM479.37,184.51l3,5.4h-6zM480.7,184.57l3,5.4h-6zM482.04,184.62l3,5.4h-6zM483.38,184.67l3,5.4h-6zM484.72,184.72l3,5.4h-6zM486.06,184.77l3,5.4h-6zM487.4,184.81l3,5.4h-6zM488.74,184.85l3,5.4h-6zM490.08,184.89l3,5.4h-6zM491.42,184.93l3,5.4h-6zM492.76,184.96l3,5.4h-6zM494.1,185l3,5.4h-6zM495.44,185.03l3,5.4h-6zM496.78,185.06l3,5.4h-6zM498.12,185.09l3,5.4h-6zM499.46,185.12l3,5.4h-6zM500.79,185.14l3,5.4h-6zM502.13,185.17l3,5.4h-6zM503.47,185.19l3,5.4h-6zM504.81,185.22l3,5.4h-6zM506.15,185.24l3,5.4h-6zM507.49,185.26l3,5.4h-6zM508.83,185.28l3,5.4h-6zM510.17,185.3l3,5.4h-6zM511.51,185.32l3,5.4h-6zM512.85,185.35l3,5.4h-6zM514.19,185.37l3,5.4h-6zM515.53,185.39l3,5.4h-6zM516.87,185.41l3,5.4h-6zM518.21,185.43l3,5.4h-6zM519.55,185.45l3,5.4h-6zM520.89,185.47l3,5.4h-6zM522.22,185.49l3,5.4h-6zM523.56,185.51l3,5.4h-6zM524.9,185.53l3,5.4h-6zM526.24,185.55l3,5.4h-6zM527.58,185.57l3,5.4h-6zM528.92,185.59l3,5.4h-6zM530.26,185.61l3,5.4h-6zM531.6,185.63l3,5.4h-6zM532.94,185.65l3,5.4h-6zM534.28,185.67l3,5.4h-6zM535.62,185.68l3,5.4h-6zM536.96,185.7l3,5.4h-6zM538.3,185.72l3,5.4h-6zM539.64,185.74l3,5.4h-6zM540.98,185.75l3,5.4h-6zM542.32,185.77l3,5.4h-6zM543.65,185.78l3,5.4h-6zM544.99,185.8l3,5.4h-6zM546.33,185.82l3,5.4h-6zM547.67,185.83l3,5.4h-6zM549.01,185.84l3,5.4h-6zM550.35,185.86l3,5.4h-6zM551.69,185.87l3,5.4h-6zM553.03,185.88l3,5.4h-6zM554.37,185.89l3,5.4h-6zM555.71,185.91l3,5.4h-6zM557.05,185.92l3,5.4h-6zM558.39,185.93l3,5.4h-6zM559.73,185.94l3,5.4h-6zM561.07,185.94l3,5.4h-6zM562.41,185.95l3,5.4h-6zM563.75,185.96l3,5.4h-6zM565.09,185.97l3,5.4h-6zM566.42,185.97l3,5.4h-6zM567.76,185.98l3,5.4h-6zM569.1,185.98l3,5.4h-6zM570.44,185.99l3,5.4h-6zM571.78,185.99l3,5.4h-6zM573.12,185.99l3,5.4h-6zM574.46,185.99l3,5.4h-6zM575.8,186l3,5.4h-6z" fill="#0000ff"/>
</g>
<line x1="575.8" y1="40.15" x2="575.8" y2="190.95" stroke="#000" stroke-width="1.5" />
<text transform="translate(361.5,202.8) scale(0.900,1)" font-size="13" text-anchor="middle" fill="#000">0</text>
<text transform="translate(415.07,202.8) scale(0.900,1)" font-size="13" text-anchor="middle" fill="#000">2</text>
<text transform="translate(468.65,202.8) scale(0.900,1)" font-size="13" text-anchor="middle" fill="#000">4</text>
<text transform="translate(522.22,202.8) scale(0.900,1)" font-size="13" text-anchor="middle" fill="#000">6</text>
<text transform="translate(575.8,202.8) scale(0.900,1)" font-size="13" text-anchor="middle" fill="#000">8</text>
<text transform="translate(579.3,194.1) scale(0.885,1)" font-size="13.2" text-anchor="start" fill="#000">0.0</text>
<text transform="translate(579.3,165.6) scale(0.885,1)" font-size="13.2" text-anchor="start" fill="#000">0.2</text>
<text transform="translate(579.3,137.1) scale(0.885,1)" font-size="13.2" text-anchor="start" fill="#000">0.4</text>
<text transform="translate(579.3,108.6) scale(0.885,1)" font-size="13.2" text-anchor="start" fill="#000">0.6</text>
<text transform="translate(579.3,80.1) scale(0.885,1)" font-size="13.2" text-anchor="start" fill="#000">0.8</text>
<text transform="translate(579.3,51.6) scale(0.885,1)" font-size="13.2" text-anchor="start" fill="#000">1.0</text>
<text transform="translate(469.1,217.1) scale(0.940,1)" font-size="14" text-anchor="middle" fill="#000">U (eV)</text>
<text transform="translate(369.2,72.7)" font-size="17.9" text-anchor="start" fill="#000">B</text>
<text transform="translate(604.8,123) rotate(90)" font-size="14.5" text-anchor="middle" fill="#000">Z</text>
<rect x="511.3" y="51.3" width="53.4" height="60.6" fill="#fff" stroke="#aaa" stroke-width="1"/>
<line x1="513.8" y1="60.1" x2="544.4" y2="60.1" stroke="#ff0000" stroke-width="1.2" />
<path d="M527.1,58.4h3.4v3.4h-3.4z" fill="#ff0000"/>
<text transform="translate(547.8,64.9) scale(0.930,1)" font-size="13.7" text-anchor="start" fill="#000">Z</text>
<text transform="translate(555.88,69.8) scale(0.820,1)" font-size="9.4" text-anchor="start" fill="#000">xz</text>
<line x1="513.8" y1="80.5" x2="544.4" y2="80.5" stroke="#00ff00" stroke-width="1.2" />
<path d="M527,80.5a1.8,1.8 0 1,0 3.6,0a1.8,1.8 0 1,0 -3.6,0z" fill="#00ff00"/>
<text transform="translate(547.8,85.3) scale(0.930,1)" font-size="13.7" text-anchor="start" fill="#000">Z</text>
<text transform="translate(555.88,90.2) scale(0.820,1)" font-size="9.4" text-anchor="start" fill="#000">yz</text>
<line x1="513.8" y1="100.8" x2="544.4" y2="100.8" stroke="#0000ff" stroke-width="1.2" />
<path d="M528.8,98.5l2,3.6h-4z" fill="#0000ff"/>
<text transform="translate(547.8,105.6) scale(0.930,1)" font-size="13.7" text-anchor="start" fill="#000">Z</text>
<text transform="translate(555.88,110.5) scale(0.820,1)" font-size="9.4" text-anchor="start" fill="#000">xy</text>
<rect x="361.5" y="228.8" width="214.3" height="149.4" fill="none" stroke="#000" stroke-width="1.5"/>
<line x1="388.29" y1="378.2" x2="388.29" y2="376.2" stroke="#000" stroke-width="1.3" />
<line x1="388.29" y1="228.8" x2="388.29" y2="230.8" stroke="#000" stroke-width="1.3" />
<line x1="415.07" y1="378.2" x2="415.07" y2="374.6" stroke="#000" stroke-width="1.3" />
<line x1="415.07" y1="228.8" x2="415.07" y2="232.4" stroke="#000" stroke-width="1.3" />
<line x1="441.86" y1="378.2" x2="441.86" y2="376.2" stroke="#000" stroke-width="1.3" />
<line x1="441.86" y1="228.8" x2="441.86" y2="230.8" stroke="#000" stroke-width="1.3" />
<line x1="468.65" y1="378.2" x2="468.65" y2="374.6" stroke="#000" stroke-width="1.3" />
<line x1="468.65" y1="228.8" x2="468.65" y2="232.4" stroke="#000" stroke-width="1.3" />
<line x1="495.44" y1="378.2" x2="495.44" y2="376.2" stroke="#000" stroke-width="1.3" />
<line x1="495.44" y1="228.8" x2="495.44" y2="230.8" stroke="#000" stroke-width="1.3" />
<line x1="522.22" y1="378.2" x2="522.22" y2="374.6" stroke="#000" stroke-width="1.3" />
<line x1="522.22" y1="228.8" x2="522.22" y2="232.4" stroke="#000" stroke-width="1.3" />
<line x1="549.01" y1="378.2" x2="549.01" y2="376.2" stroke="#000" stroke-width="1.3" />
<line x1="549.01" y1="228.8" x2="549.01" y2="230.8" stroke="#000" stroke-width="1.3" />
<line x1="361.5" y1="356.8" x2="363.5" y2="356.8" stroke="#000" stroke-width="1.3" />
<line x1="361.5" y1="335.4" x2="365.1" y2="335.4" stroke="#000" stroke-width="1.3" />
<line x1="361.5" y1="314" x2="363.5" y2="314" stroke="#000" stroke-width="1.3" />
<line x1="361.5" y1="292.6" x2="365.1" y2="292.6" stroke="#000" stroke-width="1.3" />
<line x1="361.5" y1="271.2" x2="363.5" y2="271.2" stroke="#000" stroke-width="1.3" />
<line x1="361.5" y1="249.8" x2="365.1" y2="249.8" stroke="#000" stroke-width="1.3" />
<line x1="575.8" y1="356.8" x2="573.8" y2="356.8" stroke="#000" stroke-width="1.3" />
<line x1="575.8" y1="335.4" x2="572.2" y2="335.4" stroke="#000" stroke-width="1.3" />
<line x1="575.8" y1="314" x2="573.8" y2="314" stroke="#000" stroke-width="1.3" />
<line x1="575.8" y1="292.6" x2="572.2" y2="292.6" stroke="#000" stroke-width="1.3" />
<line x1="575.8" y1="271.2" x2="573.8" y2="271.2" stroke="#000" stroke-width="1.3" />
<line x1="575.8" y1="249.8" x2="572.2" y2="249.8" stroke="#000" stroke-width="1.3" />
<g clip-path="url(#cC)">
<polyline points="361.5,293.46 362.84,295.41 364.18,297.36 365.52,299.32 366.86,301.28 368.2,303.25 369.54,305.21 370.88,307.18 372.21,309.16 373.55,311.13 374.89,313.11 376.23,315.09 377.57,317.08 378.91,319.06 380.25,321.08 381.59,323.12 382.93,325.18 384.27,327.26 385.61,329.35 386.95,331.45 388.29,333.54 389.63,335.64 390.97,337.72 392.31,339.79 393.64,341.83 394.98,343.85 396.32,345.84 397.66,347.79 399,349.7 400.34,351.55 401.68,353.36 403.02,355.12 404.36,356.91 405.7,358.7 407.04,360.46 408.38,362.17 409.72,363.79 411.06,365.28 412.4,366.63 413.74,367.8 415.07,368.81 416.41,369.74 417.75,370.57 419.09,371.31 420.43,371.94 421.77,372.47 423.11,372.99 424.45,373.48 425.79,373.9 427.13,374.21 428.47,374.34 429.81,374.16 431.15,373.43 432.49,372.22 433.83,370.63 435.17,368.73 436.5,365.18 437.84,359.47 439.18,353.98 440.52,348.77 441.86,343.26 443.2,337.62 444.54,333.35 445.88,329.74 447.22,326.7 448.56,324.12 449.9,321.9 451.24,319.96 452.58,318.26 453.92,316.73 455.26,315.24 456.6,313.81 457.94,312.49 459.27,311.32 460.61,310.36 461.95,309.59 463.29,308.92 464.63,308.33 465.97,307.78 467.31,307.23 468.65,306.69 469.99,306.16 471.33,305.63 472.67,305.13 474.01,304.64 475.35,304.17 476.69,303.73 478.03,303.32 479.37,302.94 480.7,302.59 482.04,302.28 483.38,301.98 484.72,301.7 486.06,301.44 487.4,301.19 488.74,300.94 490.08,300.71 491.42,300.49 492.76,300.26 494.1,300.04 495.44,299.82 496.78,299.59 498.12,299.36 499.46,299.12 500.79,298.87 502.13,298.62 503.47,298.36 504.81,298.1 506.15,297.84 507.49,297.58 508.83,297.32 510.17,297.07 511.51,296.81 512.85,296.56 514.19,296.31 515.53,296.07 516.87,295.83 518.21,295.6 519.55,295.38 520.89,295.17 522.22,294.96 523.56,294.77 524.9,294.58 526.24,294.39 527.58,294.21 528.92,294.02 530.26,293.84 531.6,293.66 532.94,293.47 534.28,293.27 535.62,293.07 536.96,292.86 538.3,292.65 539.64,292.42 540.98,292.17 542.32,291.91 543.65,291.64 544.99,291.36 546.33,291.06 547.67,290.75 549.01,290.43 550.35,290.1 551.69,289.76 553.03,289.42 554.37,289.06 555.71,288.69 557.05,288.32 558.39,287.94 559.73,287.54 561.07,287.13 562.41,286.71 563.75,286.28 565.09,285.84 566.42,285.38 567.76,284.92 569.1,284.44 570.44,283.95 571.78,283.45 573.12,282.95 574.46,282.43 575.8,281.9" fill="none" stroke="#ff0000" stroke-width="1.2" stroke-dasharray="4 3"/>
<path d="M358.85,293.46a2.65,2.65 0 1,0 5.3,0a2.65,2.65 0 1,0 -5.3,0zM360.19,295.41a2.65,2.65 0 1,0 5.3,0a2.65,2.65 0 1,0 -5.3,0zM361.53,297.36a2.65,2.65 0 1,0 5.3,0a2.65,2.65 0 1,0 -5.3,0zM362.87,299.32a2.65,2.65 0 1,0 5.3,0a2.65,2.65 0 1,0 -5.3,0zM364.21,301.28a2.65,2.65 0 1,0 5.3,0a2.65,2.65 0 1,0 -5.3,0zM365.55,303.25a2.65,2.65 0 1,0 5.3,0a2.65,2.65 0 1,0 -5.3,0zM366.89,305.21a2.65,2.65 0 1,0 5.3,0a2.65,2.65 0 1,0 -5.3,0zM368.23,307.18a2.65,2.65 0 1,0 5.3,0a2.65,2.65 0 1,0 -5.3,0zM369.56,309.16a2.65,2.65 0 1,0 5.3,0a2.65,2.65 0 1,0 -5.3,0zM370.9,311.13a2.65,2.65 0 1,0 5.3,0a2.65,2.65 0 1,0 -5.3,0zM372.24,313.11a2.65,2.65 0 1,0 5.3,0a2.65,2.65 0 1,0 -5.3,0zM373.58,315.09a2.65,2.65 0 1,0 5.3,0a2.65,2.65 0 1,0 -5.3,0zM374.92,317.08a2.65,2.65 0 1,0 5.3,0a2.65,2.65 0 1,0 -5.3,0zM376.26,319.06a2.65,2.65 0 1,0 5.3,0a2.65,2.65 0 1,0 -5.3,0zM377.6,321.08a2.65,2.65 0 1,0 5.3,0a2.65,2.65 0 1,0 -5.3,0zM378.94,323.12a2.65,2.65 0 1,0 5.3,0a2.65,2.65 0 1,0 -5.3,0zM380.28,325.18a2.65,2.65 0 1,0 5.3,0a2.65,2.65 0 1,0 -5.3,0zM381.62,327.26a2.65,2.65 0 1,0 5.3,0a2.65,2.65 0 1,0 -5.3,0zM382.96,329.35a2.65,2.65 0 1,0 5.3,0a2.65,2.65 0 1,0 -5.3,0zM384.3,331.45a2.65,2.65 0 1,0 5.3,0a2.65,2.65 0 1,0 -5.3,0zM385.64,333.54a2.65,2.65 0 1,0 5.3,0a2.65,2.65 0 1,0 -5.3,0zM386.98,335.64a2.65,2.65 0 1,0 5.3,0a2.65,2.65 0 1,0 -5.3,0zM388.32,337.72a2.65,2.65 0 1,0 5.3,0a2.65,2.65 0 1,0 -5.3,0zM389.66,339.79a2.65,2.65 0 1,0 5.3,0a2.65,2.65 0 1,0 -5.3,0zM391,341.83a2.65,2.65 0 1,0 5.3,0a2.65,2.65 0 1,0 -5.3,0zM392.33,343.85a2.65,2.65 0 1,0 5.3,0a2.65,2.65 0 1,0 -5.3,0zM393.67,345.84a2.65,2.65 0 1,0 5.3,0a2.65,2.65 0 1,0 -5.3,0zM395.01,347.79a2.65,2.65 0 1,0 5.3,0a2.65,2.65 0 1,0 -5.3,0zM396.35,349.7a2.65,2.65 0 1,0 5.3,0a2.65,2.65 0 1,0 -5.3,0zM397.69,351.55a2.65,2.65 0 1,0 5.3,0a2.65,2.65 0 1,0 -5.3,0zM399.03,353.36a2.65,2.65 0 1,0 5.3,0a2.65,2.65 0 1,0 -5.3,0zM400.37,355.12a2.65,2.65 0 1,0 5.3,0a2.65,2.65 0 1,0 -5.3,0zM401.71,356.91a2.65,2.65 0 1,0 5.3,0a2.65,2.65 0 1,0 -5.3,0zM403.05,358.7a2.65,2.65 0 1,0 5.3,0a2.65,2.65 0 1,0 -5.3,0zM404.39,360.46a2.65,2.65 0 1,0 5.3,0a2.65,2.65 0 1,0 -5.3,0zM405.73,362.17a2.65,2.65 0 1,0 5.3,0a2.65,2.65 0 1,0 -5.3,0zM407.07,363.79a2.65,2.65 0 1,0 5.3,0a2.65,2.65 0 1,0 -5.3,0zM408.41,365.28a2.65,2.65 0 1,0 5.3,0a2.65,2.65 0 1,0 -5.3,0zM409.75,366.63a2.65,2.65 0 1,0 5.3,0a2.65,2.65 0 1,0 -5.3,0zM411.09,367.8a2.65,2.65 0 1,0 5.3,0a2.65,2.65 0 1,0 -5.3,0zM412.43,368.81a2.65,2.65 0 1,0 5.3,0a2.65,2.65 0 1,0 -5.3,0zM413.76,369.74a2.65,2.65 0 1,0 5.3,0a2.65,2.65 0 1,0 -5.3,0zM415.1,370.57a2.65,2.65 0 1,0 5.3,0a2.65,2.65 0 1,0 -5.3,0zM416.44,371.31a2.65,2.65 0 1,0 5.3,0a2.65,2.65 0 1,0 -5.3,0zM417.78,371.94a2.65,2.65 0 1,0 5.3,0a2.65,2.65 0 1,0 -5.3,0zM419.12,372.47a2.65,2.65 0 1,0 5.3,0a2.65,2.65 0 1,0 -5.3,0zM420.46,372.99a2.65,2.65 0 1,0 5.3,0a2.65,2.65 0 1,0 -5.3,0zM421.8,373.48a2.65,2.65 0 1,0 5.3,0a2.65,2.65 0 1,0 -5.3,0zM423.14,373.9a2.65,2.65 0 1,0 5.3,0a2.65,2.65 0 1,0 -5.3,0zM424.48,374.21a2.65,2.65 0 1,0 5.3,0a2.65,2.65 0 1,0 -5.3,0zM425.82,374.34a2.65,2.65 0 1,0 5.3,0a2.65,2.65 0 1,0 -5.3,0zM427.16,374.16a2.65,2.65 0 1,0 5.3,0a2.65,2.65 0 1,0 -5.3,0zM428.5,373.43a2.65,2.65 0 1,0 5.3,0a2.65,2.65 0 1,0 -5.3,0zM429.84,372.22a2.65,2.65 0 1,0 5.3,0a2.65,2.65 0 1,0 -5.3,0zM431.18,370.63a2.65,2.65 0 1,0 5.3,0a2.65,2.65 0 1,0 -5.3,0zM432.52,368.73a2.65,2.65 0 1,0 5.3,0a2.65,2.65 0 1,0 -5.3,0zM433.86,365.18a2.65,2.65 0 1,0 5.3,0a2.65,2.65 0 1,0 -5.3,0zM435.19,359.47a2.65,2.65 0 1,0 5.3,0a2.65,2.65 0 1,0 -5.3,0zM436.53,353.98a2.65,2.65 0 1,0 5.3,0a2.65,2.65 0 1,0 -5.3,0zM437.87,348.77a2.65,2.65 0 1,0 5.3,0a2.65,2.65 0 1,0 -5.3,0zM439.21,343.26a2.65,2.65 0 1,0 5.3,0a2.65,2.65 0 1,0 -5.3,0zM440.55,337.62a2.65,2.65 0 1,0 5.3,0a2.65,2.65 0 1,0 -5.3,0zM441.89,333.35a2.65,2.65 0 1,0 5.3,0a2.65,2.65 0 1,0 -5.3,0zM443.23,329.74a2.65,2.65 0 1,0 5.3,0a2.65,2.65 0 1,0 -5.3,0zM444.57,326.7a2.65,2.65 0 1,0 5.3,0a2.65,2.65 0 1,0 -5.3,0zM445.91,324.12a2.65,2.65 0 1,0 5.3,0a2.65,2.65 0 1,0 -5.3,0zM447.25,321.9a2.65,2.65 0 1,0 5.3,0a2.65,2.65 0 1,0 -5.3,0zM448.59,319.96a2.65,2.65 0 1,0 5.3,0a2.65,2.65 0 1,0 -5.3,0zM449.93,318.26a2.65,2.65 0 1,0 5.3,0a2.65,2.65 0 1,0 -5.3,0zM451.27,316.73a2.65,2.65 0 1,0 5.3,0a2.65,2.65 0 1,0 -5.3,0zM452.61,315.24a2.65,2.65 0 1,0 5.3,0a2.65,2.65 0 1,0 -5.3,0zM453.95,313.81a2.65,2.65 0 1,0 5.3,0a2.65,2.65 0 1,0 -5.3,0zM455.29,312.49a2.65,2.65 0 1,0 5.3,0a2.65,2.65 0 1,0 -5.3,0zM456.62,311.32a2.65,2.65 0 1,0 5.3,0a2.65,2.65 0 1,0 -5.3,0zM457.96,310.36a2.65,2.65 0 1,0 5.3,0a2.65,2.65 0 1,0 -5.3,0zM459.3,309.59a2.65,2.65 0 1,0 5.3,0a2.65,2.65 0 1,0 -5.3,0zM460.64,308.92a2.65,2.65 0 1,0 5.3,0a2.65,2.65 0 1,0 -5.3,0zM461.98,308.33a2.65,2.65 0 1,0 5.3,0a2.65,2.65 0 1,0 -5.3,0zM463.32,307.78a2.65,2.65 0 1,0 5.3,0a2.65,2.65 0 1,0 -5.3,0zM464.66,307.23a2.65,2.65 0 1,0 5.3,0a2.65,2.65 0 1,0 -5.3,0zM466,306.69a2.65,2.65 0 1,0 5.3,0a2.65,2.65 0 1,0 -5.3,0zM467.34,306.16a2.65,2.65 0 1,0 5.3,0a2.65,2.65 0 1,0 -5.3,0zM468.68,305.63a2.65,2.65 0 1,0 5.3,0a2.65,2.65 0 1,0 -5.3,0zM470.02,305.13a2.65,2.65 0 1,0 5.3,0a2.65,2.65 0 1,0 -5.3,0zM471.36,304.64a2.65,2.65 0 1,0 5.3,0a2.65,2.65 0 1,0 -5.3,0zM472.7,304.17a2.65,2.65 0 1,0 5.3,0a2.65,2.65 0 1,0 -5.3,0zM474.04,303.73a2.65,2.65 0 1,0 5.3,0a2.65,2.65 0 1,0 -5.3,0zM475.38,303.32a2.65,2.65 0 1,0 5.3,0a2.65,2.65 0 1,0 -5.3,0zM476.72,302.94a2.65,2.65 0 1,0 5.3,0a2.65,2.65 0 1,0 -5.3,0zM478.05,302.59a2.65,2.65 0 1,0 5.3,0a2.65,2.65 0 1,0 -5.3,0zM479.39,302.28a2.65,2.65 0 1,0 5.3,0a2.65,2.65 0 1,0 -5.3,0zM480.73,301.98a2.65,2.65 0 1,0 5.3,0a2.65,2.65 0 1,0 -5.3,0zM482.07,301.7a2.65,2.65 0 1,0 5.3,0a2.65,2.65 0 1,0 -5.3,0zM483.41,301.44a2.65,2.65 0 1,0 5.3,0a2.65,2.65 0 1,0 -5.3,0zM484.75,301.19a2.65,2.65 0 1,0 5.3,0a2.65,2.65 0 1,0 -5.3,0zM486.09,300.94a2.65,2.65 0 1,0 5.3,0a2.65,2.65 0 1,0 -5.3,0zM487.43,300.71a2.65,2.65 0 1,0 5.3,0a2.65,2.65 0 1,0 -5.3,0zM488.77,300.49a2.65,2.65 0 1,0 5.3,0a2.65,2.65 0 1,0 -5.3,0zM490.11,300.26a2.65,2.65 0 1,0 5.3,0a2.65,2.65 0 1,0 -5.3,0zM491.45,300.04a2.65,2.65 0 1,0 5.3,0a2.65,2.65 0 1,0 -5.3,0zM492.79,299.82a2.65,2.65 0 1,0 5.3,0a2.65,2.65 0 1,0 -5.3,0zM494.13,299.59a2.65,2.65 0 1,0 5.3,0a2.65,2.65 0 1,0 -5.3,0zM495.47,299.36a2.65,2.65 0 1,0 5.3,0a2.65,2.65 0 1,0 -5.3,0zM496.81,299.12a2.65,2.65 0 1,0 5.3,0a2.65,2.65 0 1,0 -5.3,0zM498.14,298.87a2.65,2.65 0 1,0 5.3,0a2.65,2.65 0 1,0 -5.3,0zM499.48,298.62a2.65,2.65 0 1,0 5.3,0a2.65,2.65 0 1,0 -5.3,0zM500.82,298.36a2.65,2.65 0 1,0 5.3,0a2.65,2.65 0 1,0 -5.3,0zM502.16,298.1a2.65,2.65 0 1,0 5.3,0a2.65,2.65 0 1,0 -5.3,0zM503.5,297.84a2.65,2.65 0 1,0 5.3,0a2.65,2.65 0 1,0 -5.3,0zM504.84,297.58a2.65,2.65 0 1,0 5.3,0a2.65,2.65 0 1,0 -5.3,0zM506.18,297.32a2.65,2.65 0 1,0 5.3,0a2.65,2.65 0 1,0 -5.3,0zM507.52,297.07a2.65,2.65 0 1,0 5.3,0a2.65,2.65 0 1,0 -5.3,0zM508.86,296.81a2.65,2.65 0 1,0 5.3,0a2.65,2.65 0 1,0 -5.3,0zM510.2,296.56a2.65,2.65 0 1,0 5.3,0a2.65,2.65 0 1,0 -5.3,0zM511.54,296.31a2.65,2.65 0 1,0 5.3,0a2.65,2.65 0 1,0 -5.3,0zM512.88,296.07a2.65,2.65 0 1,0 5.3,0a2.65,2.65 0 1,0 -5.3,0zM514.22,295.83a2.65,2.65 0 1,0 5.3,0a2.65,2.65 0 1,0 -5.3,0zM515.56,295.6a2.65,2.65 0 1,0 5.3,0a2.65,2.65 0 1,0 -5.3,0zM516.9,295.38a2.65,2.65 0 1,0 5.3,0a2.65,2.65 0 1,0 -5.3,0zM518.24,295.17a2.65,2.65 0 1,0 5.3,0a2.65,2.65 0 1,0 -5.3,0zM519.57,294.96a2.65,2.65 0 1,0 5.3,0a2.65,2.65 0 1,0 -5.3,0zM520.91,294.77a2.65,2.65 0 1,0 5.3,0a2.65,2.65 0 1,0 -5.3,0zM522.25,294.58a2.65,2.65 0 1,0 5.3,0a2.65,2.65 0 1,0 -5.3,0zM523.59,294.39a2.65,2.65 0 1,0 5.3,0a2.65,2.65 0 1,0 -5.3,0zM524.93,294.21a2.65,2.65 0 1,0 5.3,0a2.65,2.65 0 1,0 -5.3,0zM526.27,294.02a2.65,2.65 0 1,0 5.3,0a2.65,2.65 0 1,0 -5.3,0zM527.61,293.84a2.65,2.65 0 1,0 5.3,0a2.65,2.65 0 1,0 -5.3,0zM528.95,293.66a2.65,2.65 0 1,0 5.3,0a2.65,2.65 0 1,0 -5.3,0zM530.29,293.47a2.65,2.65 0 1,0 5.3,0a2.65,2.65 0 1,0 -5.3,0zM531.63,293.27a2.65,2.65 0 1,0 5.3,0a2.65,2.65 0 1,0 -5.3,0zM532.97,293.07a2.65,2.65 0 1,0 5.3,0a2.65,2.65 0 1,0 -5.3,0zM534.31,292.86a2.65,2.65 0 1,0 5.3,0a2.65,2.65 0 1,0 -5.3,0zM535.65,292.65a2.65,2.65 0 1,0 5.3,0a2.65,2.65 0 1,0 -5.3,0zM536.99,292.42a2.65,2.65 0 1,0 5.3,0a2.65,2.65 0 1,0 -5.3,0zM538.33,292.17a2.65,2.65 0 1,0 5.3,0a2.65,2.65 0 1,0 -5.3,0zM539.67,291.91a2.65,2.65 0 1,0 5.3,0a2.65,2.65 0 1,0 -5.3,0zM541,291.64a2.65,2.65 0 1,0 5.3,0a2.65,2.65 0 1,0 -5.3,0zM542.34,291.36a2.65,2.65 0 1,0 5.3,0a2.65,2.65 0 1,0 -5.3,0zM543.68,291.06a2.65,2.65 0 1,0 5.3,0a2.65,2.65 0 1,0 -5.3,0zM545.02,290.75a2.65,2.65 0 1,0 5.3,0a2.65,2.65 0 1,0 -5.3,0zM546.36,290.43a2.65,2.65 0 1,0 5.3,0a2.65,2.65 0 1,0 -5.3,0zM547.7,290.1a2.65,2.65 0 1,0 5.3,0a2.65,2.65 0 1,0 -5.3,0zM549.04,289.76a2.65,2.65 0 1,0 5.3,0a2.65,2.65 0 1,0 -5.3,0zM550.38,289.42a2.65,2.65 0 1,0 5.3,0a2.65,2.65 0 1,0 -5.3,0zM551.72,289.06a2.65,2.65 0 1,0 5.3,0a2.65,2.65 0 1,0 -5.3,0zM553.06,288.69a2.65,2.65 0 1,0 5.3,0a2.65,2.65 0 1,0 -5.3,0zM554.4,288.32a2.65,2.65 0 1,0 5.3,0a2.65,2.65 0 1,0 -5.3,0zM555.74,287.94a2.65,2.65 0 1,0 5.3,0a2.65,2.65 0 1,0 -5.3,0zM557.08,287.54a2.65,2.65 0 1,0 5.3,0a2.65,2.65 0 1,0 -5.3,0zM558.42,287.13a2.65,2.65 0 1,0 5.3,0a2.65,2.65 0 1,0 -5.3,0zM559.76,286.71a2.65,2.65 0 1,0 5.3,0a2.65,2.65 0 1,0 -5.3,0zM561.1,286.28a2.65,2.65 0 1,0 5.3,0a2.65,2.65 0 1,0 -5.3,0zM562.44,285.84a2.65,2.65 0 1,0 5.3,0a2.65,2.65 0 1,0 -5.3,0zM563.77,285.38a2.65,2.65 0 1,0 5.3,0a2.65,2.65 0 1,0 -5.3,0zM565.11,284.92a2.65,2.65 0 1,0 5.3,0a2.65,2.65 0 1,0 -5.3,0zM566.45,284.44a2.65,2.65 0 1,0 5.3,0a2.65,2.65 0 1,0 -5.3,0zM567.79,283.95a2.65,2.65 0 1,0 5.3,0a2.65,2.65 0 1,0 -5.3,0zM569.13,283.45a2.65,2.65 0 1,0 5.3,0a2.65,2.65 0 1,0 -5.3,0zM570.47,282.95a2.65,2.65 0 1,0 5.3,0a2.65,2.65 0 1,0 -5.3,0zM571.81,282.43a2.65,2.65 0 1,0 5.3,0a2.65,2.65 0 1,0 -5.3,0zM573.15,281.9a2.65,2.65 0 1,0 5.3,0a2.65,2.65 0 1,0 -5.3,0z" fill="#ff0000"/>
<path d="M361.5,289.15l3,5.4h-6zM362.84,291.1l3,5.4h-6zM364.18,293.06l3,5.4h-6zM365.52,295.02l3,5.4h-6zM366.86,296.98l3,5.4h-6zM368.2,298.94l3,5.4h-6zM369.54,300.91l3,5.4h-6zM370.88,302.88l3,5.4h-6zM372.21,304.85l3,5.4h-6zM373.55,306.82l3,5.4h-6zM374.89,308.8l3,5.4h-6zM376.23,310.78l3,5.4h-6zM377.57,312.77l3,5.4h-6zM378.91,314.76l3,5.4h-6zM380.25,316.77l3,5.4h-6zM381.59,318.81l3,5.4h-6zM382.93,320.87l3,5.4h-6zM384.27,322.94l3,5.4h-6zM385.61,325.03l3,5.4h-6zM386.95,327.12l3,5.4h-6zM388.29,329.21l3,5.4h-6zM389.63,331.3l3,5.4h-6zM390.97,333.38l3,5.4h-6zM392.31,335.45l3,5.4h-6zM393.64,337.49l3,5.4h-6zM394.98,339.51l3,5.4h-6zM396.32,341.5l3,5.4h-6zM397.66,343.45l3,5.4h-6zM399,345.37l3,5.4h-6zM400.34,347.23l3,5.4h-6zM401.68,349.04l3,5.4h-6zM403.02,350.82l3,5.4h-6zM404.36,352.63l3,5.4h-6zM405.7,354.43l3,5.4h-6zM407.04,356.22l3,5.4h-6zM408.38,357.95l3,5.4h-6zM409.72,359.58l3,5.4h-6zM411.06,361.1l3,5.4h-6zM412.4,362.48l3,5.4h-6zM413.74,363.67l3,5.4h-6zM415.07,364.7l3,5.4h-6zM416.41,365.66l3,5.4h-6zM417.75,366.53l3,5.4h-6zM419.09,367.28l3,5.4h-6zM420.43,367.9l3,5.4h-6zM421.77,368.4l3,5.4h-6zM423.11,368.86l3,5.4h-6zM424.45,369.22l3,5.4h-6zM425.79,369.36l3,5.4h-6zM427.13,369.19l3,5.4h-6zM428.47,368.71l3,5.4h-6zM429.81,368l3,5.4h-6zM431.15,366.93l3,5.4h-6zM432.49,364.45l3,5.4h-6zM433.83,361.1l3,5.4h-6zM435.17,356.35l3,5.4h-6zM436.5,349.67l3,5.4h-6zM437.84,342.22l3,5.4h-6zM439.18,334.82l3,5.4h-6zM440.52,327.41l3,5.4h-6zM441.86,321.25l3,5.4h-6zM443.2,315.22l3,5.4h-6zM444.54,309.78l3,5.4h-6zM445.88,305.03l3,5.4h-6zM447.22,301.01l3,5.4h-6zM448.56,297.2l3,5.4h-6zM449.9,293.9l3,5.4h-6zM451.24,291.11l3,5.4h-6zM452.58,288.52l3,5.4h-6zM453.92,286.2l3,5.4h-6zM455.26,284.19l3,5.4h-6zM456.6,282.43l3,5.4h-6zM457.94,280.83l3,5.4h-6zM459.27,279.37l3,5.4h-6zM460.61,278.02l3,5.4h-6zM461.95,276.75l3,5.4h-6zM463.29,275.54l3,5.4h-6zM464.63,274.37l3,5.4h-6zM465.97,273.32l3,5.4h-6zM467.31,272.5l3,5.4h-6zM468.65,271.86l3,5.4h-6zM469.99,271.31l3,5.4h-6zM471.33,270.82l3,5.4h-6zM472.67,270.36l3,5.4h-6zM474.01,269.89l3,5.4h-6zM475.35,269.41l3,5.4h-6zM476.69,268.95l3,5.4h-6zM478.03,268.5l3,5.4h-6zM479.37,268.07l3,5.4h-6zM480.7,267.67l3,5.4h-6zM482.04,267.28l3,5.4h-6zM483.38,266.91l3,5.4h-6zM484.72,266.54l3,5.4h-6zM486.06,266.18l3,5.4h-6zM487.4,265.82l3,5.4h-6zM488.74,265.48l3,5.4h-6zM490.08,265.14l3,5.4h-6zM491.42,264.81l3,5.4h-6zM492.76,264.48l3,5.4h-6zM494.1,264.17l3,5.4h-6zM495.44,263.85l3,5.4h-6zM496.78,263.55l3,5.4h-6zM498.12,263.24l3,5.4h-6zM499.46,262.95l3,5.4h-6zM500.79,262.65l3,5.4h-6zM502.13,262.36l3,5.4h-6zM503.47,262.08l3,5.4h-6zM504.81,261.8l3,5.4h-6zM506.15,261.53l3,5.4h-6zM507.49,261.26l3,5.4h-6zM508.83,260.99l3,5.4h-6zM510.17,260.73l3,5.4h-6zM511.51,260.47l3,5.4h-6zM512.85,260.22l3,5.4h-6zM514.19,259.98l3,5.4h-6zM515.53,259.74l3,5.4h-6zM516.87,259.51l3,5.4h-6zM518.21,259.28l3,5.4h-6zM519.55,259.06l3,5.4h-6zM520.89,258.85l3,5.4h-6zM522.22,258.64l3,5.4h-6zM523.56,258.45l3,5.4h-6zM524.9,258.26l3,5.4h-6zM526.24,258.07l3,5.4h-6zM527.58,257.89l3,5.4h-6zM528.92,257.71l3,5.4h-6zM530.26,257.53l3,5.4h-6zM531.6,257.35l3,5.4h-6zM532.94,257.17l3,5.4h-6zM534.28,256.99l3,5.4h-6zM535.62,256.8l3,5.4h-6zM536.96,256.61l3,5.4h-6zM538.3,256.41l3,5.4h-6zM539.64,256.2l3,5.4h-6zM540.98,255.98l3,5.4h-6zM542.32,255.75l3,5.4h-6zM543.65,255.52l3,5.4h-6zM544.99,255.29l3,5.4h-6zM546.33,255.05l3,5.4h-6zM547.67,254.8l3,5.4h-6zM549.01,254.55l3,5.4h-6zM550.35,254.29l3,5.4h-6zM551.69,254.02l3,5.4h-6zM553.03,253.74l3,5.4h-6zM554.37,253.46l3,5.4h-6zM555.71,253.16l3,5.4h-6zM557.05,252.86l3,5.4h-6zM558.39,252.54l3,5.4h-6zM559.73,252.21l3,5.4h-6zM561.07,251.87l3,5.4h-6zM562.41,251.52l3,5.4h-6zM563.75,251.15l3,5.4h-6zM565.09,250.78l3,5.4h-6zM566.42,250.4l3,5.4h-6zM567.76,250l3,5.4h-6zM569.1,249.59l3,5.4h-6zM570.44,249.18l3,5.4h-6zM571.78,248.75l3,5.4h-6zM573.12,248.32l3,5.4h-6zM574.46,247.87l3,5.4h-6zM575.8,247.42l3,5.4h-6z" fill="#0000ff"/>
</g>
<line x1="575.8" y1="228.05" x2="575.8" y2="378.95" stroke="#000" stroke-width="1.5" />
<text transform="translate(361.5,391) scale(0.900,1)" font-size="13" text-anchor="middle" fill="#000">0</text>
<text transform="translate(415.07,391) scale(0.900,1)" font-size="13" text-anchor="middle" fill="#000">2</text>
<text transform="translate(468.65,391) scale(0.900,1)" font-size="13" text-anchor="middle" fill="#000">4</text>
<text transform="translate(522.22,391) scale(0.900,1)" font-size="13" text-anchor="middle" fill="#000">6</text>
<text transform="translate(575.8,391) scale(0.900,1)" font-size="13" text-anchor="middle" fill="#000">8</text>
<text transform="translate(579.3,253.6) scale(0.885,1)" font-size="13.2" text-anchor="start" fill="#000">0.1</text>
<text transform="translate(579.3,296.4) scale(0.885,1)" font-size="13.2" text-anchor="start" fill="#000">0.0</text>
<text transform="translate(579.3,339.2) scale(0.885,1)" font-size="13.2" text-anchor="start" fill="#000">-0.1</text>
<text transform="translate(579.3,382) scale(0.885,1)" font-size="13.2" text-anchor="start" fill="#000">-0.2</text>
<text transform="translate(468.7,408.5) scale(0.940,1)" font-size="14" text-anchor="middle" fill="#000">U (eV)</text>
<text transform="translate(370.6,251) scale(0.970,1)" font-size="18.4" text-anchor="start" fill="#000">C</text>
<text transform="translate(608.2,312.8) rotate(90) scale(0.960,1)" font-size="14.2" text-anchor="middle" fill="#000">ΔE (eV)</text>
<rect x="497.2" y="318" width="62.6" height="43.5" fill="#fff" stroke="#aaa" stroke-width="1"/>
<line x1="499.8" y1="328.3" x2="531" y2="328.3" stroke="#ff0000" stroke-width="1.3" stroke-dasharray="4.7 4.3 13.7 4.3 4.2 9"/>
<path d="M513.6,328.3a1.9,1.9 0 1,0 3.8,0a1.9,1.9 0 1,0 -3.8,0z" fill="#ff0000"/>
<rect x="499.95" y="349.4" width="1.5" height="1.5" rx="0.5" fill="#0000ff"/>
<rect x="505.35" y="349.4" width="1.5" height="1.5" rx="0.5" fill="#0000ff"/>
<rect x="510.65" y="349.4" width="1.5" height="1.5" rx="0.5" fill="#0000ff"/>
<rect x="521.35" y="349.4" width="1.5" height="1.5" rx="0.5" fill="#0000ff"/>
<rect x="526.85" y="349.4" width="1.5" height="1.5" rx="0.5" fill="#0000ff"/>
<path d="M515.5,347.75l2.3,4.14h-4.6z" fill="#0000ff"/>
<text transform="translate(533.6,333.3) scale(0.930,1)" font-size="14.2" text-anchor="start" fill="#000">ΔE</text>
<text transform="translate(551.53,337.9) scale(0.880,1)" font-size="8.8" text-anchor="start" fill="#000">Γ</text>
<text transform="translate(533.6,355.1) scale(0.930,1)" font-size="14.2" text-anchor="start" fill="#000">ΔE</text>
<text transform="translate(551.53,359.7) scale(0.880,1)" font-size="8.8" text-anchor="start" fill="#000">M</text>
</svg>
</body></html>
